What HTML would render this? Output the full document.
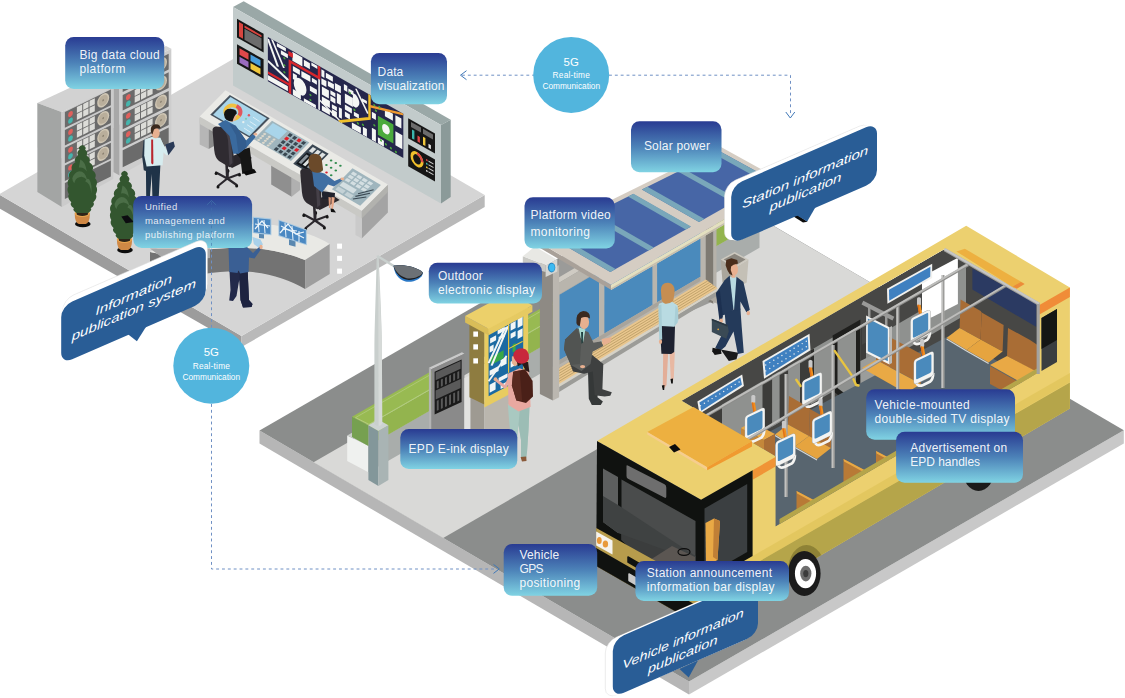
<!DOCTYPE html>
<html><head><meta charset="utf-8"><title>Smart bus information publication</title>
<style>
html,body{margin:0;padding:0;background:#fff;}
svg{display:block}
text{font-family:"Liberation Sans",sans-serif;fill:#fff}
</style></head><body>
<svg width="1125" height="698" viewBox="0 0 1125 698">
<defs>
<linearGradient id="lg" x1="0" y1="0" x2="0" y2="1"><stop offset="0" stop-color="#293b92"/><stop offset="0.5" stop-color="#4c82b8"/><stop offset="1" stop-color="#80d3e3"/></linearGradient>
</defs>
<polygon points="-1.0,194.4 241.5,336.0 241.5,347.0 -1.0,208.3" fill="#9c9c9c" />
<polygon points="241.5,336.0 484.7,195.0 484.7,207.0 241.5,347.0" fill="#b9b9b9" />
<polygon points="-1.0,194.4 241.8,54.1 484.7,195.0 241.5,336.0" fill="#d5d5d5" />
<polygon points="119.6,74.1 171.3,48.8 166.0,46.0 114.0,71.0" fill="#d4d4d4" />
<polygon points="113.3,88.0 119.6,74.1 119.6,175.5 113.3,172.0" fill="#a8a8a8" />
<polygon points="119.6,74.1 171.3,48.8 171.3,147.0 119.6,175.5" fill="#cdcdcd" />
<g transform="matrix(1,-0.493,0,1,122.7,76.5)">
<rect x="0.0" y="0.0" width="46.0" height="15.6" fill="#6b6b6b" />
<ellipse cx="5.6" cy="4.7" rx="2.4" ry="2.7" fill="#e0605c" />
<ellipse cx="5.6" cy="11.3" rx="2.4" ry="2.7" fill="#45b5ad" />
<rect x="12.0" y="0.8" width="5.3" height="6.0" fill="#dcdcd8" />
<rect x="12.0" y="7.7" width="5.3" height="6.0" fill="#dcdcd8" />
<rect x="18.3" y="0.8" width="5.3" height="6.0" fill="#dcdcd8" />
<rect x="18.3" y="7.7" width="5.3" height="6.0" fill="#dcdcd8" />
<rect x="24.6" y="0.8" width="5.3" height="6.0" fill="#dcdcd8" />
<rect x="24.6" y="7.7" width="5.3" height="6.0" fill="#dcdcd8" />
<ellipse cx="38.3" cy="7.0" rx="6.0" ry="6.6" fill="#cfc6b4" />
<ellipse cx="38.3" cy="7.0" rx="4.6" ry="5.2" fill="#b9ae9b" />
<ellipse cx="38.3" cy="7.0" rx="0.9" ry="1.0" fill="#8a8070" />
</g>
<g transform="matrix(1,-0.493,0,1,122.7,95.0)">
<rect x="0.0" y="0.0" width="46.0" height="15.6" fill="#6b6b6b" />
<ellipse cx="5.6" cy="4.7" rx="2.4" ry="2.7" fill="#e0605c" />
<ellipse cx="5.6" cy="11.3" rx="2.4" ry="2.7" fill="#45b5ad" />
<rect x="12.0" y="0.8" width="5.3" height="6.0" fill="#dcdcd8" />
<rect x="12.0" y="7.7" width="5.3" height="6.0" fill="#dcdcd8" />
<rect x="18.3" y="0.8" width="5.3" height="6.0" fill="#dcdcd8" />
<rect x="18.3" y="7.7" width="5.3" height="6.0" fill="#dcdcd8" />
<rect x="24.6" y="0.8" width="5.3" height="6.0" fill="#dcdcd8" />
<rect x="24.6" y="7.7" width="5.3" height="6.0" fill="#dcdcd8" />
<ellipse cx="38.3" cy="7.0" rx="6.0" ry="6.6" fill="#cfc6b4" />
<ellipse cx="38.3" cy="7.0" rx="4.6" ry="5.2" fill="#b9ae9b" />
<ellipse cx="38.3" cy="7.0" rx="0.9" ry="1.0" fill="#8a8070" />
</g>
<g transform="matrix(1,-0.493,0,1,122.7,113.7)">
<rect x="0.0" y="0.0" width="46.0" height="15.6" fill="#6b6b6b" />
<ellipse cx="5.6" cy="4.7" rx="2.4" ry="2.7" fill="#e0605c" />
<ellipse cx="5.6" cy="11.3" rx="2.4" ry="2.7" fill="#45b5ad" />
<rect x="12.0" y="0.8" width="5.3" height="6.0" fill="#dcdcd8" />
<rect x="12.0" y="7.7" width="5.3" height="6.0" fill="#dcdcd8" />
<rect x="18.3" y="0.8" width="5.3" height="6.0" fill="#dcdcd8" />
<rect x="18.3" y="7.7" width="5.3" height="6.0" fill="#dcdcd8" />
<rect x="24.6" y="0.8" width="5.3" height="6.0" fill="#dcdcd8" />
<rect x="24.6" y="7.7" width="5.3" height="6.0" fill="#dcdcd8" />
<ellipse cx="38.3" cy="7.0" rx="6.0" ry="6.6" fill="#cfc6b4" />
<ellipse cx="38.3" cy="7.0" rx="4.6" ry="5.2" fill="#b9ae9b" />
<ellipse cx="38.3" cy="7.0" rx="0.9" ry="1.0" fill="#8a8070" />
</g>
<g transform="matrix(1,-0.493,0,1,122.7,132.1)">
<rect x="0.0" y="0.0" width="46.0" height="15.6" fill="#6b6b6b" />
<ellipse cx="5.6" cy="4.7" rx="2.4" ry="2.7" fill="#e0605c" />
<ellipse cx="5.6" cy="11.3" rx="2.4" ry="2.7" fill="#45b5ad" />
<rect x="12.0" y="0.8" width="5.3" height="6.0" fill="#dcdcd8" />
<rect x="12.0" y="7.7" width="5.3" height="6.0" fill="#dcdcd8" />
<rect x="18.3" y="0.8" width="5.3" height="6.0" fill="#dcdcd8" />
<rect x="18.3" y="7.7" width="5.3" height="6.0" fill="#dcdcd8" />
<rect x="24.6" y="0.8" width="5.3" height="6.0" fill="#dcdcd8" />
<rect x="24.6" y="7.7" width="5.3" height="6.0" fill="#dcdcd8" />
<ellipse cx="38.3" cy="7.0" rx="6.0" ry="6.6" fill="#cfc6b4" />
<ellipse cx="38.3" cy="7.0" rx="4.6" ry="5.2" fill="#b9ae9b" />
<ellipse cx="38.3" cy="7.0" rx="0.9" ry="1.0" fill="#8a8070" />
</g>
<g transform="matrix(1,-0.493,0,1,122.7,150.3)">
<rect x="0.0" y="0.0" width="46.0" height="17.0" fill="#6b6b6b" />
</g>
<polygon points="37.3,103.0 61.6,112.1 113.3,87.9 88.8,79.0" fill="#d2d2d2" />
<polygon points="37.3,103.0 61.6,112.1 61.8,207.1 37.4,192.0" fill="#a3a5a4" />
<polygon points="61.6,112.1 113.3,87.2 113.3,179.0 61.8,207.1" fill="#cbcbcb" />
<g transform="matrix(1,-0.49,0,1,64.9,112.1)">
<rect x="0.0" y="0.0" width="46.0" height="15.6" fill="#6b6b6b" />
<ellipse cx="5.6" cy="4.7" rx="2.4" ry="2.7" fill="#e0605c" />
<ellipse cx="5.6" cy="11.3" rx="2.4" ry="2.7" fill="#45b5ad" />
<rect x="12.0" y="0.8" width="5.3" height="6.0" fill="#dcdcd8" />
<rect x="12.0" y="7.7" width="5.3" height="6.0" fill="#dcdcd8" />
<rect x="18.3" y="0.8" width="5.3" height="6.0" fill="#dcdcd8" />
<rect x="18.3" y="7.7" width="5.3" height="6.0" fill="#dcdcd8" />
<rect x="24.6" y="0.8" width="5.3" height="6.0" fill="#dcdcd8" />
<rect x="24.6" y="7.7" width="5.3" height="6.0" fill="#dcdcd8" />
<ellipse cx="38.3" cy="7.0" rx="6.0" ry="6.6" fill="#cfc6b4" />
<ellipse cx="38.3" cy="7.0" rx="4.6" ry="5.2" fill="#b9ae9b" />
<ellipse cx="38.3" cy="7.0" rx="0.9" ry="1.0" fill="#8a8070" />
</g>
<g transform="matrix(1,-0.49,0,1,64.9,129.9)">
<rect x="0.0" y="0.0" width="46.0" height="15.6" fill="#6b6b6b" />
<ellipse cx="5.6" cy="4.7" rx="2.4" ry="2.7" fill="#e0605c" />
<ellipse cx="5.6" cy="11.3" rx="2.4" ry="2.7" fill="#45b5ad" />
<rect x="12.0" y="0.8" width="5.3" height="6.0" fill="#dcdcd8" />
<rect x="12.0" y="7.7" width="5.3" height="6.0" fill="#dcdcd8" />
<rect x="18.3" y="0.8" width="5.3" height="6.0" fill="#dcdcd8" />
<rect x="18.3" y="7.7" width="5.3" height="6.0" fill="#dcdcd8" />
<rect x="24.6" y="0.8" width="5.3" height="6.0" fill="#dcdcd8" />
<rect x="24.6" y="7.7" width="5.3" height="6.0" fill="#dcdcd8" />
<ellipse cx="38.3" cy="7.0" rx="6.0" ry="6.6" fill="#cfc6b4" />
<ellipse cx="38.3" cy="7.0" rx="4.6" ry="5.2" fill="#b9ae9b" />
<ellipse cx="38.3" cy="7.0" rx="0.9" ry="1.0" fill="#8a8070" />
</g>
<g transform="matrix(1,-0.49,0,1,64.9,147.7)">
<rect x="0.0" y="0.0" width="46.0" height="15.6" fill="#6b6b6b" />
<ellipse cx="5.6" cy="4.7" rx="2.4" ry="2.7" fill="#e0605c" />
<ellipse cx="5.6" cy="11.3" rx="2.4" ry="2.7" fill="#45b5ad" />
<rect x="12.0" y="0.8" width="5.3" height="6.0" fill="#dcdcd8" />
<rect x="12.0" y="7.7" width="5.3" height="6.0" fill="#dcdcd8" />
<rect x="18.3" y="0.8" width="5.3" height="6.0" fill="#dcdcd8" />
<rect x="18.3" y="7.7" width="5.3" height="6.0" fill="#dcdcd8" />
<rect x="24.6" y="0.8" width="5.3" height="6.0" fill="#dcdcd8" />
<rect x="24.6" y="7.7" width="5.3" height="6.0" fill="#dcdcd8" />
<ellipse cx="38.3" cy="7.0" rx="6.0" ry="6.6" fill="#cfc6b4" />
<ellipse cx="38.3" cy="7.0" rx="4.6" ry="5.2" fill="#b9ae9b" />
<ellipse cx="38.3" cy="7.0" rx="0.9" ry="1.0" fill="#8a8070" />
</g>
<g transform="matrix(1,-0.49,0,1,64.9,165.4)">
<rect x="0.0" y="0.0" width="46.0" height="15.6" fill="#6b6b6b" />
<ellipse cx="5.6" cy="4.7" rx="2.4" ry="2.7" fill="#e0605c" />
<ellipse cx="5.6" cy="11.3" rx="2.4" ry="2.7" fill="#45b5ad" />
<rect x="12.0" y="0.8" width="5.3" height="6.0" fill="#dcdcd8" />
<rect x="12.0" y="7.7" width="5.3" height="6.0" fill="#dcdcd8" />
<rect x="18.3" y="0.8" width="5.3" height="6.0" fill="#dcdcd8" />
<rect x="18.3" y="7.7" width="5.3" height="6.0" fill="#dcdcd8" />
<rect x="24.6" y="0.8" width="5.3" height="6.0" fill="#dcdcd8" />
<rect x="24.6" y="7.7" width="5.3" height="6.0" fill="#dcdcd8" />
<ellipse cx="38.3" cy="7.0" rx="6.0" ry="6.6" fill="#cfc6b4" />
<ellipse cx="38.3" cy="7.0" rx="4.6" ry="5.2" fill="#b9ae9b" />
<ellipse cx="38.3" cy="7.0" rx="0.9" ry="1.0" fill="#8a8070" />
</g>
<g transform="matrix(1,-0.49,0,1,64.9,183.1)">
<rect x="0.0" y="0.0" width="46.0" height="16.0" fill="#6b6b6b" />
</g>
<polygon points="233.0,7.0 243.7,1.2 450.7,119.7 441.0,125.0" fill="#9aa8a7" />
<polygon points="441.0,125.0 450.7,119.7 450.7,197.0 441.0,203.5" fill="#8b9a99" />
<polygon points="233.0,7.0 441.0,125.0 441.0,203.5 233.0,85.5" fill="#c2cbcb" />
<g transform="matrix(1,0.567,0,1,233.0,7.0)">
<rect x="4.0" y="9.5" width="26.6" height="18.7" fill="#161616" />
<rect x="6.0" y="11.5" width="4.0" height="14.5" fill="#d8453f" />
<rect x="11.5" y="12.0" width="17.0" height="2.2" fill="#d8453f" />
<rect x="11.5" y="15.2" width="17.0" height="11.0" fill="#6c6c6c" />
<rect x="4.0" y="35.0" width="26.6" height="19.5" fill="#161616" />
<rect x="6.5" y="37.5" width="9.0" height="6.5" fill="#e0484a" />
<rect x="17.5" y="37.5" width="10.0" height="6.5" fill="#4a9edc" />
<rect x="6.5" y="46.0" width="9.0" height="6.0" fill="#9a6cc0" />
<rect x="17.5" y="46.0" width="10.0" height="6.0" fill="#f0c83c" />
<clipPath id="mapclip"><rect x="34.9" y="10.1" width="135.4" height="44.4"/></clipPath><rect x="34.9" y="10.1" width="135.4" height="44.4" fill="#25264b" />
<g clip-path="url(#mapclip)"><polyline points="34.9,12.1 44.9,34.1" fill="none" stroke="#f4f6f4" stroke-width="2.4" />
<polyline points="38.9,10.1 50.9,32.1" fill="none" stroke="#f4f6f4" stroke-width="2.0" />
<polyline points="34.9,34.1 55.9,42.1" fill="none" stroke="#f4f6f4" stroke-width="2.6" />
<rect x="43.9" y="11.1" width="9.0" height="3.5" fill="#f4f6f4" />
<rect x="47.9" y="16.1" width="7.0" height="4.0" fill="#f4f6f4" />
<rect x="34.9" y="48.1" width="20.0" height="5.0" fill="#f4f6f4" />
<rect x="59.4" y="11.1" width="10.0" height="9.0" fill="#f4f6f4" />
<rect x="70.9" y="12.6" width="6.0" height="6.0" fill="#f4f6f4" />
<rect x="78.4" y="11.1" width="6.0" height="3.0" fill="#f4f6f4" />
<rect x="59.9" y="25.1" width="7.0" height="5.0" fill="#f4f6f4" />
<rect x="68.4" y="25.1" width="9.0" height="6.0" fill="#f4f6f4" />
<rect x="78.9" y="26.1" width="5.0" height="4.0" fill="#f4f6f4" />
<rect x="59.9" y="32.1" width="4.0" height="6.0" fill="#f4f6f4" />
<rect x="76.9" y="35.1" width="7.0" height="5.0" fill="#f4f6f4" />
<rect x="59.9" y="48.1" width="8.0" height="6.0" fill="#f4f6f4" />
<rect x="70.9" y="51.1" width="12.0" height="3.4" fill="#f4f6f4" />
<rect x="88.4" y="12.1" width="3.0" height="7.0" fill="#f4f6f4" />
<rect x="92.9" y="13.1" width="7.0" height="5.0" fill="#f4f6f4" />
<rect x="88.4" y="21.1" width="5.0" height="6.0" fill="#f4f6f4" />
<rect x="94.9" y="20.1" width="6.0" height="5.0" fill="#f4f6f4" />
<rect x="101.9" y="18.1" width="6.0" height="7.0" fill="#f4f6f4" />
<rect x="88.9" y="29.1" width="7.0" height="8.0" fill="#f4f6f4" />
<rect x="97.4" y="28.1" width="5.0" height="4.0" fill="#f4f6f4" />
<rect x="97.4" y="33.6" width="5.0" height="5.0" fill="#f4f6f4" />
<rect x="103.9" y="27.1" width="4.0" height="10.0" fill="#f4f6f4" />
<rect x="88.9" y="39.1" width="8.0" height="7.0" fill="#f4f6f4" />
<rect x="98.9" y="41.1" width="5.0" height="4.0" fill="#f4f6f4" />
<rect x="98.9" y="46.1" width="5.0" height="6.0" fill="#f4f6f4" />
<rect x="105.9" y="40.1" width="3.0" height="10.0" fill="#f4f6f4" />
<rect x="88.9" y="48.1" width="8.0" height="5.0" fill="#f4f6f4" />
<rect x="110.9" y="14.1" width="3.4" height="6.0" fill="#f4f6f4" />
<rect x="115.4" y="16.1" width="5.0" height="4.0" fill="#f4f6f4" />
<rect x="111.9" y="23.1" width="8.0" height="9.0" fill="#f4f6f4" />
<rect x="111.9" y="34.1" width="7.0" height="5.0" fill="#f4f6f4" />
<rect x="120.9" y="36.1" width="5.0" height="4.0" fill="#f4f6f4" />
<rect x="111.9" y="41.1" width="5.0" height="5.0" fill="#f4f6f4" />
<rect x="128.9" y="18.1" width="5.0" height="3.0" fill="#f4f6f4" />
<rect x="118.9" y="48.1" width="9.0" height="6.0" fill="#f4f6f4" />
<rect x="129.9" y="46.1" width="4.0" height="8.0" fill="#f4f6f4" />
<rect x="138.9" y="42.1" width="4.0" height="12.0" fill="#f4f6f4" />
<rect x="138.9" y="26.1" width="4.0" height="6.0" fill="#f4f6f4" />
<rect x="162.4" y="32.1" width="7.0" height="14.0" fill="#f4f6f4" />
<rect x="162.4" y="16.1" width="6.0" height="10.0" fill="#f4f6f4" />
<rect x="151.9" y="16.1" width="8.0" height="7.0" fill="#f4f6f4" />
<rect x="144.9" y="48.1" width="6.0" height="6.0" fill="#f4f6f4" />
<ellipse cx="67.1" cy="41.6" rx="6.4" ry="8.2" fill="#f4f6f4" />
<path d="M119.9,18.1 L122.9,18.1 Q129.9,24.1 122.9,31.1 L119.9,31.1Z" fill="#f4f6f4" />
<polyline points="122.9,12.1 134.9,30.1" fill="none" stroke="#f4f6f4" stroke-width="2.0" />
<polyline points="86.1,22.1 86.1,54.1" fill="none" stroke="#f4f6f4" stroke-width="1.6" />
<polyline points="86.9,44.1 108.9,54.1" fill="none" stroke="#f4f6f4" stroke-width="1.6" />
<polyline points="34.9,45.7 56.9,45.7" fill="none" stroke="#d8262c" stroke-width="2.6" />
<polyline points="56.9,54.5 56.9,22.1 86.1,22.1 86.1,10.1" fill="none" stroke="#d8262c" stroke-width="2.6" />
<rect x="55.4" y="12.6" width="4.5" height="4.5" fill="#d8262c" />
<polyline points="105.9,54.7 136.5,34.1 136.5,10.1" fill="none" stroke="#f0c02c" stroke-width="2.4" />
<polyline points="136.8,21.5 170.3,10.7" fill="none" stroke="#f09a30" stroke-width="2.4" />
<rect x="144.9" y="26.6" width="15.5" height="19.0" fill="#4aaa3c" />
<ellipse cx="152.9" cy="35.5" rx="3.8" ry="4.8" fill="#f4f6f4" />
<circle cx="51.4" cy="22.1" r="1.1" fill="#4aaa3c" />
<circle cx="51.4" cy="29.1" r="1.1" fill="#4aaa3c" />
<circle cx="51.4" cy="36.1" r="1.1" fill="#4aaa3c" />
<circle cx="77.4" cy="44.1" r="1.1" fill="#4aaa3c" />
<circle cx="77.4" cy="49.1" r="1.1" fill="#4aaa3c" />
<circle cx="116.9" cy="19.6" r="1.1" fill="#4aaa3c" />
<circle cx="121.4" cy="34.1" r="1.1" fill="#4aaa3c" />
<circle cx="124.9" cy="45.6" r="1.1" fill="#4aaa3c" />
<circle cx="129.9" cy="44.1" r="1.1" fill="#4aaa3c" />
<circle cx="141.4" cy="18.1" r="1.1" fill="#4aaa3c" />
<circle cx="146.4" cy="17.1" r="1.1" fill="#4aaa3c" />
<circle cx="141.4" cy="38.1" r="1.1" fill="#4aaa3c" />
<circle cx="147.9" cy="49.6" r="1.1" fill="#4aaa3c" />
<circle cx="152.9" cy="50.6" r="1.1" fill="#4aaa3c" />
<circle cx="157.9" cy="51.6" r="1.1" fill="#4aaa3c" />
<circle cx="162.9" cy="52.6" r="1.1" fill="#4aaa3c" />
<circle cx="142.9" cy="22.6" r="1.1" fill="#4aaa3c" />
</g><rect x="175.2" y="12.0" width="26.8" height="20.0" fill="#161616" />
<rect x="178.0" y="14.0" width="10.0" height="5.0" fill="#6c6c6c" />
<rect x="190.0" y="14.0" width="10.0" height="5.0" fill="#6c6c6c" />
<rect x="179.0" y="21.0" width="2.4" height="9.0" fill="#3ab5ad" />
<rect x="184.5" y="24.0" width="2.4" height="6.0" fill="#e0484a" />
<rect x="190.0" y="22.0" width="2.4" height="8.0" fill="#f0c83c" />
<rect x="195.5" y="26.0" width="2.4" height="4.0" fill="#e8e8e8" />
<rect x="175.2" y="38.0" width="26.8" height="22.0" fill="#161616" />
<ellipse cx="184.0" cy="48.0" rx="5.2" ry="6.0" fill="none" stroke="#f0c02c" stroke-width="2.6"/>
<path d="M184,42 A5.2,6 0 0 1 189.2,48" fill="none" stroke="#e0484a" stroke-width="2.6"/>
<rect x="193.0" y="42.5" width="1.6" height="1.6" fill="#e0484a" />
<rect x="195.5" y="42.7" width="5.0" height="1.1" fill="#d0d0d0" />
<rect x="193.0" y="46.1" width="1.6" height="1.6" fill="#3ab5ad" />
<rect x="195.5" y="46.3" width="5.0" height="1.1" fill="#d0d0d0" />
<rect x="193.0" y="49.7" width="1.6" height="1.6" fill="#f0c83c" />
<rect x="195.5" y="49.9" width="5.0" height="1.1" fill="#d0d0d0" />
<rect x="193.0" y="53.3" width="1.6" height="1.6" fill="#e8e8e8" />
<rect x="195.5" y="53.5" width="5.0" height="1.1" fill="#d0d0d0" />
</g>
<polygon points="199.7,118.0 208.7,123.2 208.7,149.0 199.7,144.4" fill="#b6b6b6" />
<polygon points="208.7,123.2 214.0,126.0 214.0,146.0 208.7,149.0" fill="#8c8c8c" />
<polygon points="271.2,160.3 291.7,171.5 291.7,196.7 271.2,184.5" fill="#8f8f8f" />
<polygon points="291.7,171.5 300.1,167.0 300.1,190.0 291.7,196.7" fill="#b0b0b0" />
<polygon points="361.7,212.0 387.9,186.0 387.9,212.5 361.7,238.5" fill="#a4a4a4" />
<polygon points="355.5,208.0 361.7,211.6 361.7,238.5 355.5,235.0" fill="#cacaca" />
<polygon points="199.7,116.4 361.7,210.7 361.7,218.5 199.7,124.0" fill="#c9c9c5" />
<polygon points="361.7,210.7 387.9,184.5 387.9,192.0 361.7,218.5" fill="#b2b2ae" />
<polygon points="199.7,116.4 225.5,90.3 387.9,184.5 361.7,210.7" fill="#eaeae6" />
<polygon points="210.2,114.8 229.8,95.0 269.7,118.2 250.0,138.0" fill="#46525e" />
<polygon points="213.1,114.7 230.5,97.1 266.8,118.2 249.4,135.9" fill="#a9d5ea" />
<ellipse cx="232.7" cy="112.1" rx="7.6" ry="6.6" fill="none" stroke="#f0c040" stroke-width="3.8" transform="rotate(12 232.7 112.1)"/>
<path d="M236.6,105.9 A7.6,6.6 12 0 1 239.2,115.6" fill="none" stroke="#e05560" stroke-width="3.8"/>
<circle cx="248.9" cy="115.3" r="1.2" fill="#e05560" />
<circle cx="246.0" cy="118.8" r="1.1" fill="#7ed0b0" />
<circle cx="243.3" cy="122.1" r="1.2" fill="#e8f0f0" />
<line x1="253.0" y1="117.2" x2="259.6" y2="121.5" stroke="#dceef6" stroke-width="1.0" />
<line x1="249.8" y1="121.5" x2="256.4" y2="125.8" stroke="#dceef6" stroke-width="1.0" />
<line x1="247.1" y1="124.7" x2="253.7" y2="129.0" stroke="#dceef6" stroke-width="1.0" />
<line x1="243.9" y1="128.0" x2="250.5" y2="132.3" stroke="#dceef6" stroke-width="1.0" />
<polygon points="253.7,139.2 272.0,120.7 309.3,142.4 291.0,160.9" fill="#9fb5bd" />
<polygon points="264.7,131.2 272.9,122.9 287.2,131.2 278.9,139.5" fill="#a9d5ea" />
<ellipse cx="258.7" cy="140.1" rx="1.5" ry="1.1" fill="#dcd8cc" />
<ellipse cx="260.7" cy="138.1" rx="1.5" ry="1.1" fill="#dcd8cc" />
<ellipse cx="262.7" cy="136.1" rx="1.5" ry="1.1" fill="#dcd8cc" />
<ellipse cx="264.6" cy="134.1" rx="1.5" ry="1.1" fill="#dcd8cc" />
<ellipse cx="263.4" cy="142.8" rx="1.5" ry="1.1" fill="#dcd8cc" />
<ellipse cx="265.4" cy="140.8" rx="1.5" ry="1.1" fill="#dcd8cc" />
<ellipse cx="267.4" cy="138.8" rx="1.5" ry="1.1" fill="#dcd8cc" />
<ellipse cx="269.3" cy="136.9" rx="1.5" ry="1.1" fill="#dcd8cc" />
<ellipse cx="268.1" cy="145.5" rx="1.5" ry="1.1" fill="#dcd8cc" />
<ellipse cx="270.1" cy="143.6" rx="1.5" ry="1.1" fill="#dcd8cc" />
<ellipse cx="272.1" cy="141.6" rx="1.5" ry="1.1" fill="#dcd8cc" />
<ellipse cx="274.0" cy="139.6" rx="1.5" ry="1.1" fill="#dcd8cc" />
<polygon points="273.6,149.6 276.1,147.1 279.0,148.8 276.5,151.3" fill="#3a4852" />
<polygon points="277.1,146.1 279.5,143.6 282.4,145.3 280.0,147.8" fill="#3a4852" />
<polygon points="280.5,142.6 283.0,140.1 285.9,141.8 283.4,144.3" fill="#3a4852" />
<polygon points="284.0,139.1 286.4,136.6 289.3,138.3 286.9,140.8" fill="#e0202c" />
<polygon points="287.4,135.6 289.9,133.1 292.8,134.8 290.4,137.3" fill="#3a4852" />
<polygon points="278.1,152.1 280.5,149.7 283.4,151.4 281.0,153.8" fill="#3a4852" />
<polygon points="281.5,148.6 284.0,146.2 286.9,147.9 284.4,150.3" fill="#e0202c" />
<polygon points="285.0,145.2 287.4,142.7 290.3,144.4 287.9,146.8" fill="#3a4852" />
<polygon points="288.4,141.7 290.9,139.2 293.8,140.9 291.4,143.4" fill="#3a4852" />
<polygon points="291.9,138.2 294.3,135.7 297.3,137.4 294.8,139.9" fill="#3a4852" />
<polygon points="282.5,154.7 285.0,152.3 287.9,154.0 285.4,156.4" fill="#3a4852" />
<polygon points="286.0,151.2 288.4,148.8 291.3,150.5 288.9,152.9" fill="#3a4852" />
<polygon points="289.4,147.7 291.9,145.3 294.8,147.0 292.3,149.4" fill="#3a4852" />
<polygon points="292.9,144.2 295.3,141.8 298.3,143.5 295.8,145.9" fill="#3a4852" />
<polygon points="296.3,140.8 298.8,138.3 301.7,140.0 299.3,142.4" fill="#e0202c" />
<polygon points="287.0,157.3 289.4,154.9 292.3,156.6 289.9,159.0" fill="#3a4852" />
<polygon points="290.4,153.8 292.9,151.4 295.8,153.1 293.3,155.5" fill="#3a4852" />
<polygon points="293.9,150.3 296.3,147.9 299.3,149.6 296.8,152.0" fill="#e0202c" />
<polygon points="297.3,146.8 299.8,144.4 302.7,146.1 300.3,148.5" fill="#3a4852" />
<polygon points="300.8,143.3 303.3,140.9 306.2,142.6 303.7,145.0" fill="#3a4852" />
<polygon points="293.2,163.8 312.5,144.3 328.7,153.7 309.4,173.3" fill="#3a4652" />
<polygon points="308.8,151.1 312.9,147.0 316.3,148.9 312.2,153.1" fill="#dfe3e3" />
<polygon points="313.5,153.9 317.6,149.7 321.0,151.7 316.9,155.8" fill="#dfe3e3" />
<polygon points="318.2,156.6 322.3,152.4 325.7,154.4 321.6,158.6" fill="#dfe3e3" />
<polygon points="296.1,163.5 306.9,152.5 319.9,160.0 309.1,171.0" fill="#14181c" />
<polygon points="298.6,162.5 306.4,154.6 308.9,156.1 301.2,164.0" fill="#8a949c" />
<polygon points="302.7,164.8 310.4,157.0 313.0,158.5 305.3,166.3" fill="#dfe3e3" />
<polygon points="306.7,167.2 314.5,159.4 317.0,160.9 309.3,168.7" fill="#8a949c" />
<ellipse cx="317.1" cy="174.5" rx="1.3" ry="1.0" fill="#2e8a4c" />
<ellipse cx="321.8" cy="169.8" rx="1.3" ry="1.0" fill="#2e8a4c" />
<ellipse cx="326.4" cy="165.1" rx="1.3" ry="1.0" fill="#2e8a4c" />
<ellipse cx="331.1" cy="160.4" rx="1.3" ry="1.0" fill="#2e8a4c" />
<ellipse cx="321.8" cy="177.2" rx="1.3" ry="1.0" fill="#2e8a4c" />
<ellipse cx="326.5" cy="172.5" rx="1.3" ry="1.0" fill="#d82030" />
<ellipse cx="331.1" cy="167.8" rx="1.3" ry="1.0" fill="#2e8a4c" />
<ellipse cx="335.8" cy="163.1" rx="1.3" ry="1.0" fill="#2e8a4c" />
<ellipse cx="326.5" cy="179.9" rx="1.3" ry="1.0" fill="#2e8a4c" />
<ellipse cx="331.2" cy="175.2" rx="1.3" ry="1.0" fill="#2e8a4c" />
<ellipse cx="335.8" cy="170.5" rx="1.3" ry="1.0" fill="#2e8a4c" />
<ellipse cx="340.4" cy="165.8" rx="1.3" ry="1.0" fill="#2e8a4c" />
<polygon points="331.9,189.2 352.5,168.3 380.9,184.9 360.2,205.7" fill="#9fb5bd" />
<polygon points="344.6,180.2 347.0,177.9 351.0,180.2 348.7,182.6" fill="#d4dfe2" />
<polygon points="347.7,177.1 350.0,174.7 354.1,177.1 351.8,179.4" fill="#d4dfe2" />
<polygon points="350.8,173.9 353.1,171.6 357.2,173.9 354.9,176.3" fill="#d4dfe2" />
<polygon points="350.0,183.3 352.3,181.0 356.3,183.3 354.0,185.7" fill="#d4dfe2" />
<polygon points="353.1,180.2 355.4,177.8 359.4,180.2 357.1,182.5" fill="#d4dfe2" />
<polygon points="356.2,177.1 358.5,174.7 362.5,177.1 360.2,179.4" fill="#d4dfe2" />
<polygon points="355.3,186.4 357.6,184.1 361.7,186.4 359.4,188.8" fill="#d4dfe2" />
<polygon points="358.4,183.3 360.7,180.9 364.8,183.3 362.5,185.7" fill="#d4dfe2" />
<polygon points="361.5,180.2 363.8,177.8 367.9,180.2 365.6,182.5" fill="#d4dfe2" />
<polygon points="360.7,189.5 363.0,187.2 367.0,189.5 364.7,191.9" fill="#d4dfe2" />
<polygon points="363.8,186.4 366.1,184.1 370.1,186.4 367.8,188.8" fill="#d4dfe2" />
<polygon points="366.9,183.3 369.2,180.9 373.2,183.3 370.9,185.6" fill="#d4dfe2" />
<polygon points="339.5,185.4 343.1,181.8 356.9,189.8 353.2,193.4" fill="#d4dfe2" />
<polygon points="335.3,189.6 338.4,186.5 345.7,190.7 342.6,193.8" fill="#c4d2d6" />
<polygon points="344.3,194.8 347.3,191.7 353.8,195.4 350.7,198.6" fill="#c4d2d6" />
<line x1="352.9" y1="199.0" x2="366.3" y2="197.0" stroke="#3a4852" stroke-width="1.1" />
<line x1="355.4" y1="196.4" x2="370.0" y2="193.3" stroke="#3a4852" stroke-width="1.1" />
<line x1="358.0" y1="193.8" x2="373.6" y2="189.7" stroke="#3a4852" stroke-width="1.1" />
<line x1="227.3" y1="178.5" x2="216.1" y2="172.5" stroke="#2a272c" stroke-width="2.2" stroke-linecap="round"/>
<circle cx="216.1" cy="173.5" r="1.5" fill="#151515" />
<line x1="227.3" y1="178.5" x2="218.0" y2="186.0" stroke="#2a272c" stroke-width="2.2" stroke-linecap="round"/>
<circle cx="218.0" cy="187.0" r="1.5" fill="#151515" />
<line x1="227.3" y1="178.5" x2="236.7" y2="185.0" stroke="#2a272c" stroke-width="2.2" stroke-linecap="round"/>
<circle cx="236.7" cy="186.0" r="1.5" fill="#151515" />
<line x1="227.3" y1="178.5" x2="239.5" y2="174.0" stroke="#2a272c" stroke-width="2.2" stroke-linecap="round"/>
<circle cx="239.5" cy="175.0" r="1.5" fill="#151515" />
<line x1="227.3" y1="178.5" x2="228.0" y2="170.0" stroke="#2a272c" stroke-width="2.2" stroke-linecap="round"/>
<circle cx="228.0" cy="171.0" r="1.5" fill="#151515" />
<line x1="226.6" y1="164.0" x2="227.3" y2="179.0" stroke="#2a272c" stroke-width="2.6" />
<polygon points="222.0,160.0 243.0,152.0 252.0,158.0 232.0,168.0" fill="#2a262b" />
<path d="M212.6,131.0 Q212.0,127.0 216.0,126.5 L222.0,127.0 Q231.0,130.0 232.5,137.0 L234.0,162.0 Q233.5,168.0 229.0,167.0 L219.0,161.0 Q215.0,158.0 214.2,150.0 Z" fill="#2f2b31" />
<path d="M222.0,129.0 Q229.5,131.0 231.0,138.0 L232.5,163.0 L229.5,165.5 L228.0,140.0 Q227.0,132.0 222.0,129.0Z" fill="#454048" />
<polygon points="234.8,151.9 249.7,147.5 252.2,167.7 253.5,171.0 242.3,174.0 240.4,158.4" fill="#161616" />
<polygon points="243.0,172.0 254.0,169.0 256.5,172.5 246.0,175.5" fill="#0c0c0c" />
<polygon points="218.0,123.9 225.5,120.1 235.7,125.7 246.0,140.6 253.4,133.6 255.8,136.9 246.5,147.6 238.5,153.8 233.2,153.8 229.5,136.0" fill="#3a6a9e" />
<polygon points="229.5,124.0 235.7,125.7 246.0,140.6 246.5,147.6 238.5,153.8 236.0,135.0" fill="#335d8e" />
<ellipse cx="255.3" cy="134.2" rx="1.8" ry="1.4" fill="#e8b090" />
<ellipse cx="231.6" cy="116.4" rx="4.4" ry="5.4" fill="#e8b090" />
<path d="M224,114.5 Q224.2,108.6 230.6,108.8 Q237,109 236.8,113.6 Q234,115.6 232.6,121.6 Q224.6,121.5 224,114.5Z" fill="#141414" />
<line x1="315.0" y1="220.5" x2="303.8" y2="214.5" stroke="#2a272c" stroke-width="2.2" stroke-linecap="round"/>
<circle cx="303.8" cy="215.5" r="1.5" fill="#151515" />
<line x1="315.0" y1="220.5" x2="305.7" y2="228.0" stroke="#2a272c" stroke-width="2.2" stroke-linecap="round"/>
<circle cx="305.7" cy="229.0" r="1.5" fill="#151515" />
<line x1="315.0" y1="220.5" x2="324.4" y2="227.0" stroke="#2a272c" stroke-width="2.2" stroke-linecap="round"/>
<circle cx="324.4" cy="228.0" r="1.5" fill="#151515" />
<line x1="315.0" y1="220.5" x2="327.2" y2="216.0" stroke="#2a272c" stroke-width="2.2" stroke-linecap="round"/>
<circle cx="327.2" cy="217.0" r="1.5" fill="#151515" />
<line x1="315.0" y1="220.5" x2="315.7" y2="212.0" stroke="#2a272c" stroke-width="2.2" stroke-linecap="round"/>
<circle cx="315.7" cy="213.0" r="1.5" fill="#151515" />
<line x1="314.3" y1="206.0" x2="315.0" y2="221.0" stroke="#2a272c" stroke-width="2.6" />
<polygon points="309.7,202.0 330.7,194.0 339.7,200.0 319.7,210.0" fill="#2a262b" />
<path d="M300.3,173.0 Q299.7,169.0 303.7,168.5 L309.7,169.0 Q318.7,172.0 320.2,179.0 L321.7,204.0 Q321.2,210.0 316.7,209.0 L306.7,203.0 Q302.7,200.0 301.9,192.0 Z" fill="#2f2b31" />
<path d="M309.7,171.0 Q317.2,173.0 318.7,180.0 L320.2,205.0 L317.2,207.5 L315.7,182.0 Q314.7,174.0 309.7,171.0Z" fill="#454048" />
<polygon points="321.5,191.0 335.0,193.0 334.5,199.0 322.5,199.0" fill="#20222c" />
<polygon points="331.5,197.0 334.8,197.5 332.8,210.0 331.3,210.0" fill="#e8a888" />
<polygon points="328.5,197.0 331.0,197.5 330.3,208.0 329.0,208.0" fill="#d89878" />
<polygon points="330.5,208.5 333.5,209.0 336.0,212.5 331.0,212.0" fill="#111" />
<polygon points="312.0,170.0 324.5,173.5 334.5,181.0 341.0,178.2 342.3,180.6 334.0,186.5 328.0,184.5 322.0,192.5 314.0,186.0" fill="#3f6fa3" />
<ellipse cx="342.3" cy="178.9" rx="1.9" ry="1.3" fill="#e8b090" />
<ellipse cx="317.6" cy="160.5" rx="3.4" ry="4.2" fill="#e8b090" />
<path d="M308.5,160 Q309,153.5 315,153.8 Q321,154 321.8,160 L323,169 Q322,173 317,172.8 Q310,172.5 308.8,166Z" fill="#6b4a2a" />
<polygon points="145.9,165.3 160.4,164.4 158.7,198.0 152.4,198.0 151.8,174.0 149.8,198.0 146.2,198.0" fill="#1f3348" />
<polygon points="143.5,140.5 146.5,138.5 147.5,165.0 146.0,171.0 143.8,170.2 142.2,157.0" fill="#253748" />
<polygon points="144.6,139.6 151.6,136.9 160.4,137.8 164.0,146.7 162.6,165.2 146.6,166.4 144.2,155.6" fill="#d6ecef" />
<polygon points="160.0,138.0 164.5,146.5 169.0,153.5 166.6,155.5 161.0,150.0" fill="#d6ecef" />
<polygon points="165.3,144.4 173.6,141.6 174.9,146.5 168.4,155.2" fill="#2a3a57" />
<polygon points="151.2,139.5 153.1,139.5 153.4,163.5 152.2,164.5 151.2,163.0" fill="#b8272f" />
<ellipse cx="155.6" cy="133.0" rx="4.1" ry="5.3" fill="#e8b090" />
<path d="M150.8,131 Q150.2,124.2 156,124.2 Q160.8,124.4 160.3,128.6 Q156.5,127.6 154,129.5 Q153,132.5 152.4,134.5 Q151,133.5 150.8,131Z" fill="#3b2a1e" />
<ellipse cx="82.8" cy="224.0" rx="7.8" ry="3.2" fill="#0c0c0c" />
<path d="M74.7,213.5 Q74.8,222.5 78.8,224.1 L85.8,224.1 Q89.8,222.5 89.9,213.5Z" fill="#cf8845" />
<ellipse cx="82.3" cy="213.5" rx="7.6" ry="3.4" fill="#e9a650" />
<ellipse cx="82.3" cy="213.7" rx="5.8" ry="2.3" fill="#2e2418" />
<path d="M82.3,144.9 Q87.3,147.0 85.1,149.6 Q88.6,152.3 86.4,155.6 Q91.4,158.6 89.2,162.2 Q94.7,165.8 92.5,170.2 Q97.3,173.8 95.1,178.2 Q98.3,181.8 96.1,186.2 Q98.3,189.8 95.7,194.2 Q97.9,197.8 93.3,202.2 Q95.5,204.9 90.6,208.2 Q92.8,209.7 88.1,213.0 L76.5,213.0 Q71.8,209.7 74.0,208.2 Q69.1,204.9 71.3,202.2 Q66.7,197.8 68.9,194.2 Q66.3,189.8 68.5,186.2 Q66.3,181.8 69.5,178.2 Q67.3,173.8 72.1,170.2 Q69.9,165.8 75.4,162.2 Q73.2,158.6 78.2,155.6 Q76.0,152.3 79.5,149.6 Q77.3,147.0 82.3,144.9 Z" fill="#33562f" />
<path d="M80.3,159.6 q5,2 6.5,12 q-3,-5 -8,-4 q1,-5 1.5,-8Z" fill="#4b6e47" />
<path d="M72.3,178.2 q2,-6 7,-7 q6,0 8,9 q-4,-5 -8,-3 q-4,1 -5,6 q-2,-2 -2,-5Z" fill="#4b6e47" />
<path d="M85.3,181.5 q5,1 6,12 q1,-9 -2,-14 q-3,-2 -4,2Z" fill="#4b6e47" />
<ellipse cx="125.0" cy="250.0" rx="7.8" ry="3.2" fill="#0c0c0c" />
<path d="M116.9,239.5 Q117.0,248.5 121.0,250.1 L128.0,250.1 Q132.0,248.5 132.1,239.5Z" fill="#cf8845" />
<ellipse cx="124.5" cy="239.5" rx="7.6" ry="3.4" fill="#e9a650" />
<ellipse cx="124.5" cy="239.7" rx="5.8" ry="2.3" fill="#2e2418" />
<path d="M124.5,170.7 Q129.4,172.8 127.2,175.4 Q130.8,178.1 128.6,181.4 Q133.5,184.4 131.3,188.1 Q136.8,191.7 134.6,196.1 Q139.3,199.7 137.1,204.1 Q140.3,207.7 138.1,212.1 Q140.3,215.7 137.7,220.1 Q139.9,223.7 135.4,228.1 Q137.6,230.9 132.7,234.2 Q134.9,235.7 130.2,239.0 L118.8,239.0 Q114.1,235.7 116.3,234.2 Q111.4,230.9 113.6,228.1 Q109.1,223.7 111.3,220.1 Q108.7,215.7 110.9,212.1 Q108.7,207.7 111.9,204.1 Q109.7,199.7 114.4,196.1 Q112.2,191.7 117.7,188.1 Q115.5,184.4 120.4,181.4 Q118.2,178.1 121.8,175.4 Q119.6,172.8 124.5,170.7 Z" fill="#33562f" />
<path d="M122.5,185.4 q5,2 6.5,12 q-3,-5 -8,-4 q1,-5 1.5,-8Z" fill="#4b6e47" />
<path d="M114.5,204.1 q2,-6 7,-7 q6,0 8,9 q-4,-5 -8,-3 q-4,1 -5,6 q-2,-2 -2,-5Z" fill="#4b6e47" />
<path d="M127.5,207.4 q5,1 6,12 q1,-9 -2,-14 q-3,-2 -4,2Z" fill="#4b6e47" />
<polygon points="121.3,216.5 127.6,215.3 133.9,221.9 125.8,223.2" fill="#0c0c10" />
<path d="M305.1,260.1 C288,253 266,248.5 245.3,247.9 C225,247.5 200,249 170,256 L150,252 L150,262 L175,282 C200,272 225,270.5 249.6,271.8 C272,273.5 290,280.5 305.1,288.9Z" fill="#737373" />
<path d="M329.7,244.1 C318,236 300.8,230.8 279.5,225.9 C258,222.5 230,223.5 200,231 C180,237 165,245 150,252 L170,256 C200,249 225,247.5 245.3,247.9 C266,248.5 288,253 305.1,260.1Z" fill="#e9e9e5" />
<polygon points="305.1,260.1 329.7,244.1 329.7,274.0 305.1,288.9" fill="#9e9e9e" />
<polygon points="150.0,248.5 210.0,248.5 210.0,258.0 168.0,262.0" fill="#a8a8a8" />
<polygon points="259.0,233.0 264.0,233.6 264.0,238.5 259.0,238.0" fill="#5a88b0" />
<polygon points="252.8,216.7 271.4,218.6 271.4,235.3 252.8,233.0" fill="#a8c8e0" />
<polygon points="253.8,217.9 270.4,219.4 270.4,234.1 253.8,232.2" fill="#4a88c2" />
<polyline points="255.0,229.0 262.0,221.0 268.0,228.0" fill="none" stroke="#eef6fb" stroke-width="1.2" />
<line x1="258.0" y1="219.0" x2="259.0" y2="232.0" stroke="#eef6fb" stroke-width="1.0" />
<line x1="255.0" y1="224.0" x2="270.0" y2="226.0" stroke="#eef6fb" stroke-width="1.0" />
<line x1="264.0" y1="220.0" x2="265.0" y2="233.0" stroke="#eef6fb" stroke-width="1.0" />
<polygon points="289.0,238.5 295.5,240.5 295.5,246.8 289.0,245.0" fill="#5a88b0" />
<polygon points="278.4,219.5 306.8,229.5 306.8,245.3 278.4,236.0" fill="#a8c8e0" />
<polygon points="279.4,220.7 305.8,230.3 305.8,244.1 279.4,235.2" fill="#4a88c2" />
<polyline points="280.0,233.0 288.0,224.0 296.0,234.0 304.0,232.0" fill="none" stroke="#eef6fb" stroke-width="1.2" />
<line x1="281.0" y1="226.0" x2="304.0" y2="238.0" stroke="#eef6fb" stroke-width="1.1" />
<line x1="285.0" y1="223.0" x2="286.0" y2="237.0" stroke="#eef6fb" stroke-width="1.0" />
<line x1="292.0" y1="226.0" x2="293.0" y2="240.0" stroke="#eef6fb" stroke-width="1.0" />
<line x1="299.0" y1="231.0" x2="299.0" y2="242.0" stroke="#eef6fb" stroke-width="1.0" />
<line x1="282.0" y1="229.0" x2="297.0" y2="231.0" stroke="#eef6fb" stroke-width="1.0" />
<rect x="337.1" y="243.6" width="4.9" height="5.1" fill="#ffffff" />
<rect x="337.1" y="255.8" width="4.9" height="5.1" fill="#ffffff" />
<rect x="337.1" y="268.6" width="4.9" height="5.1" fill="#ffffff" />
<polygon points="229.5,271.0 247.6,270.0 249.0,300.0 252.5,304.0 251.5,307.0 243.0,307.5 240.5,300.0 239.2,280.0 236.5,296.0 233.0,301.0 229.2,300.5 230.5,290.0" fill="#232a4a" />
<polygon points="239.5,272.0 247.6,270.0 249.0,300.0 252.5,304.0 251.5,307.0 243.0,307.5 240.5,300.0" fill="#1d2340" />
<polygon points="228.5,247.0 247.0,247.0 253.0,253.0 259.5,246.5 261.5,248.5 254.5,258.5 249.0,257.5 248.6,272.0 240.0,273.5 238.5,270.0 237.5,273.0 229.3,272.0" fill="#3a5f94" />
<polygon points="252.5,237.0 260.5,239.5 263.0,244.5 258.5,247.5 253.8,244.0" fill="#a9d1ea" />
<ellipse cx="261.0" cy="247.0" rx="1.7" ry="2.2" fill="#e8b090" />
<polygon points="259.5,430.6 689.0,681.6 689.0,694.6 259.5,443.6" fill="#b6b6b6" />
<polygon points="689.0,681.6 1123.8,430.3 1123.8,443.5 689.0,694.6" fill="#c8c8c8" />
<polygon points="259.5,430.6 694.5,179.7 1123.8,430.3 689.0,681.6" fill="#8b8d8c" />
<polygon points="313.6,462.2 748.6,211.3 878.2,287.1 443.2,538.0" fill="#d9d9d7" />
<polygon points="347.2,435.4 368.4,445.8 368.4,472.3 347.2,461.0" fill="#eff1ef" />
<polygon points="347.2,435.4 440.8,381.7 462.0,392.1 368.4,445.8" fill="#c9cdc9" />
<polygon points="368.4,445.8 462.0,392.1 462.0,418.6 368.4,472.3" fill="#a9adab" />
<polygon points="352.0,416.8 368.4,425.3 368.4,446.0 352.0,437.0" fill="#76a050" />
<polygon points="368.4,425.3 462.0,371.6 462.0,392.3 368.4,446.0" fill="#93b44e" />
<polygon points="352.0,416.8 445.6,363.1 462.0,371.6 368.4,425.3" fill="#98ba52" />
<polyline points="369.0,424.4 462.0,371.0" fill="none" stroke="#b6cf84" stroke-width="0.9" />
<polyline points="355.5,417.6 449.1,363.9" fill="none" stroke="#b6cf84" stroke-width="0.7" />
<polyline points="355.5,417.6 369.0,424.4" fill="none" stroke="#b6cf84" stroke-width="0.9" />
<polygon points="478.8,359.9 738.3,210.9 759.5,221.3 500.0,370.3" fill="#c9cdc9" />
<polygon points="500.0,370.3 759.5,221.3 759.5,247.8 500.0,396.8" fill="#a9adab" />
<polygon points="500.0,349.8 738.0,213.1 738.0,233.8 500.0,370.5" fill="#93b44e" />
<polygon points="483.6,341.3 721.6,204.6 738.0,213.1 500.0,349.8" fill="#98ba52" />
<polyline points="500.6,348.9 738.0,212.6" fill="none" stroke="#b6cf84" stroke-width="0.9" />
<polyline points="487.1,342.1 725.1,205.4" fill="none" stroke="#b6cf84" stroke-width="0.7" />
<polygon points="368.4,425.3 378.4,431.0 378.4,486.0 368.4,480.0" fill="#83979a" />
<polygon points="378.4,431.0 388.4,425.3 388.4,480.0 378.4,486.0" fill="#a9b4b4" />
<polygon points="368.4,425.3 378.4,419.8 388.4,425.3 378.4,431.0" fill="#cdd3d2" />
<path d="M376.7,255.6 L378.6,255.6 C380,290 381.6,320 381.9,345 L382.2,424 Q378.4,428 374.4,424 L374.4,345 C374.8,320 376,290 376.7,255.6Z" fill="#c9cfcd" />
<path d="M378.2,256.5 C379.6,290 381.2,320 381.9,345 L382.2,424 Q380.5,426 378.6,426 Z" fill="#d6dad8" />
<polyline points="377.8,256.2 395.0,266.8" fill="none" stroke="#c9d0ce" stroke-width="2.4" />
<path d="M393.6,265.8 C401,264 417,266.5 422.8,272.5 C423,278.5 413,283 405.5,281.6 C398,279.5 394,272.5 393.6,265.8Z" fill="#2a78c6" />
<path d="M393.6,265.8 C401,264 417,266.5 422.8,272.5 C422.5,277 413,281 406,279.6 C399,277.8 394.5,271.5 393.6,265.8Z" fill="#1c1c1e" />
<path d="M393.6,265.8 C401,264 417,266.5 422.8,272.5 C421.5,276 413,279.6 406.5,278.2 C400,276.6 395,271 393.6,265.8Z" fill="#6c7176" />
<polygon points="428.9,367.7 431.3,369.2 431.3,440.0 428.9,440.0" fill="#b4b4b4" />
<polygon points="428.9,367.7 462.0,352.2 464.4,353.7 431.3,369.2" fill="#cacaca" />
<polygon points="431.3,369.2 464.4,353.7 464.4,440.0 431.3,440.0" fill="#8a8a8a" />
<g transform="matrix(1,-0.459,0,1,434.6,371.8)">
<rect x="0.0" y="0.0" width="27.0" height="42.7" fill="#1a1a1a" />
<rect x="1.0" y="1.2" width="25.0" height="7.6" fill="#5a5a5a" />
<rect x="1.0" y="19.2" width="25.0" height="9.0" fill="#5a5a5a" />
<rect x="2.2" y="10.6" width="1.9" height="7.2" fill="#5a5a5a" />
<rect x="2.2" y="30.0" width="1.9" height="10.0" fill="#5a5a5a" />
<rect x="6.3" y="10.6" width="1.9" height="7.2" fill="#5a5a5a" />
<rect x="6.3" y="30.0" width="1.9" height="10.0" fill="#5a5a5a" />
<rect x="10.4" y="10.6" width="1.9" height="7.2" fill="#5a5a5a" />
<rect x="10.4" y="30.0" width="1.9" height="10.0" fill="#5a5a5a" />
<rect x="14.5" y="10.6" width="1.9" height="7.2" fill="#5a5a5a" />
<rect x="14.5" y="30.0" width="1.9" height="10.0" fill="#5a5a5a" />
<rect x="18.6" y="10.6" width="1.9" height="7.2" fill="#5a5a5a" />
<rect x="18.6" y="30.0" width="1.9" height="10.0" fill="#5a5a5a" />
<rect x="22.7" y="10.6" width="1.9" height="7.2" fill="#5a5a5a" />
<rect x="22.7" y="30.0" width="1.9" height="10.0" fill="#5a5a5a" />
</g>
<polygon points="464.4,378.0 470.1,375.5 470.1,440.0 464.4,440.0" fill="#e2e2e0" />
<polygon points="720.7,259.5 734.6,268.0 734.2,289.4 722.5,282.5" fill="#aaa69c" />
<polygon points="734.6,268.0 748.5,259.5 746.7,282.5 734.2,289.4" fill="#c4c0b6" />
<polygon points="720.7,259.5 734.6,252.0 748.5,259.5 734.6,268.0" fill="#cdc9bf" />
<polygon points="723.7,259.6 734.6,253.8 745.5,259.6 734.6,266.0" fill="#8a867e" />
<polygon points="558.7,258.0 640.0,215.0 716.0,190.0 716.0,300.0 558.7,370.0" fill="#9b9b99" />
<polygon points="558.7,277.5 708.7,189.0 708.7,194.5 558.7,283.0" fill="#cfcbc3" />
<polygon points="558.7,283.0 708.7,194.5 708.7,206.3 558.7,294.8" fill="#b9b5ad" />
<polygon points="558.7,294.7 705.8,208.0 705.8,281.0 558.7,368.0" fill="#b9b5ad" />
<polygon points="559.5,294.7 599.0,271.4 599.0,336.6 559.5,359.9" fill="#4a8abc" />
<polygon points="604.4,268.2 652.4,239.9 652.4,305.1 604.4,333.4" fill="#4a8abc" />
<polygon points="657.1,237.1 700.4,211.6 700.4,276.8 657.1,302.3" fill="#4a8abc" />
<polygon points="559.5,359.9 700.4,276.8 700.4,281.0 559.5,364.5" fill="#a8a49c" />
<polygon points="705.8,205.0 713.3,209.0 713.3,303.7 705.8,300.0" fill="#7e7a72" />
<polygon points="713.3,209.0 716.5,207.0 716.5,301.5 713.3,303.7" fill="#b6b2aa" />
<polygon points="705.8,282.0 717.5,291.0 717.5,304.0 705.8,297.0" fill="#aeaaa2" />
<polygon points="559.1,384.0 717.5,288.3 717.5,291.0 559.1,387.0" fill="#d6d2c6" />
<polygon points="559.1,387.0 717.5,291.0 717.5,295.5 559.1,392.0" fill="#9c9c98" />
<polygon points="559.1,368.0 705.8,279.4 717.5,288.3 559.1,384.0" fill="#e9c68e" />
<line x1="559.1" y1="370.7" x2="707.8" y2="280.9" stroke="#b89a62" stroke-width="0.8" />
<line x1="559.1" y1="373.3" x2="709.7" y2="282.4" stroke="#b89a62" stroke-width="0.8" />
<line x1="559.1" y1="376.0" x2="711.6" y2="283.8" stroke="#b89a62" stroke-width="0.8" />
<line x1="559.1" y1="378.7" x2="713.6" y2="285.3" stroke="#b89a62" stroke-width="0.8" />
<line x1="559.1" y1="381.3" x2="715.5" y2="286.8" stroke="#b89a62" stroke-width="0.8" />
<polygon points="539.9,262.0 552.9,268.0 552.9,400.4 539.9,394.0" fill="#8e8a84" />
<polygon points="552.9,268.0 559.1,265.0 559.1,397.2 552.9,400.4" fill="#bbb7b0" />
<polygon points="532.8,238.7 611.0,284.8 611.0,289.8 532.8,243.7" fill="#a9a199" />
<polygon points="611.0,284.8 786.8,183.2 786.8,188.7 611.0,290.0" fill="#e4e0c0" />
<polygon points="611.0,288.2 786.8,186.8 786.8,188.7 611.0,290.0" fill="#c6beae" />
<polygon points="532.8,238.7 720.0,146.5 786.8,183.2 611.0,284.8" fill="#d5cdc3" />
<polygon points="548.7,235.9 633.2,193.9 690.7,226.7 610.3,272.1" fill="#4766a6" />
<polygon points="641.9,189.5 719.3,151.0 772.7,180.4 699.0,222.0" fill="#4766a6" />
<polygon points="548.7,235.9 554.3,233.1 615.6,269.1 610.3,272.1" fill="#79a7ba" />
<polygon points="588.8,216.0 594.4,213.2 653.8,247.5 648.5,250.6" fill="#79a7ba" />
<polygon points="628.0,196.5 633.5,193.7 691.0,226.5 685.7,229.5" fill="#79a7ba" />
<polygon points="641.9,189.5 647.5,186.7 704.4,219.0 699.0,222.0" fill="#79a7ba" />
<polygon points="677.9,171.6 683.5,168.8 738.6,199.6 733.3,202.6" fill="#79a7ba" />
<polygon points="713.7,153.8 719.3,151.0 772.7,180.4 767.4,183.4" fill="#79a7ba" />
<polygon points="522.8,256.3 545.6,264.9 545.6,272.0 539.9,270.5 522.8,262.5" fill="#c9c9c5" />
<polygon points="545.6,264.9 557.3,258.9 557.3,271.5 545.6,277.0" fill="#d6d6d2" />
<polygon points="522.8,256.3 534.9,246.4 556.3,259.2 545.6,264.9" fill="#e8e8e4" />
<ellipse cx="551.6" cy="267.6" rx="3.7" ry="4.9" fill="#2a86be" />
<ellipse cx="551.9" cy="267.6" rx="2.8" ry="3.9" fill="#3cbaf2" />
<polygon points="470.5,395.0 484.3,402.0 484.3,430.0 470.5,430.0" fill="#9e9a92" />
<polygon points="484.3,402.0 511.0,390.0 511.0,432.0 484.3,432.0" fill="#bab6ae" />
<polygon points="469.4,322.0 484.3,329.5 484.3,404.5 469.4,397.2" fill="#8e7c40" />
<rect x="473.3" y="331.5" width="4.7" height="5.2" fill="#ffffff" />
<rect x="473.3" y="344.3" width="4.7" height="5.2" fill="#ffffff" />
<rect x="473.3" y="358.3" width="4.7" height="5.2" fill="#ffffff" />
<polygon points="484.3,330.0 528.1,307.0 528.1,384.5 484.3,407.5" fill="#e8cc60" />
<g transform="matrix(1,-0.525,0,1,488.6,333.2)">
<rect x="0.0" y="0.0" width="34.6" height="63.0" fill="#1b6aa2" />
<rect x="1.5" y="6.0" width="6.0" height="5.0" fill="#f2f6f6" />
<rect x="1.0" y="14.0" width="4.0" height="6.0" fill="#f2f6f6" />
<rect x="9.0" y="2.0" width="7.0" height="4.0" fill="#f2f6f6" />
<rect x="10.0" y="9.0" width="6.0" height="3.0" fill="#f2f6f6" />
<rect x="22.0" y="2.0" width="5.0" height="7.0" fill="#f2f6f6" />
<rect x="29.0" y="1.0" width="5.0" height="9.0" fill="#f2f6f6" />
<rect x="22.0" y="12.0" width="5.0" height="5.0" fill="#f2f6f6" />
<rect x="29.0" y="13.0" width="5.0" height="8.0" fill="#f2f6f6" />
<rect x="1.0" y="38.0" width="9.0" height="5.0" fill="#f2f6f6" />
<rect x="12.0" y="33.0" width="6.0" height="7.0" fill="#f2f6f6" />
<rect x="1.0" y="52.0" width="6.0" height="8.0" fill="#f2f6f6" />
<rect x="10.0" y="50.0" width="9.0" height="4.0" fill="#f2f6f6" />
<rect x="22.0" y="40.0" width="6.0" height="6.0" fill="#f2f6f6" />
<rect x="12.0" y="58.0" width="8.0" height="4.0" fill="#f2f6f6" />
<rect x="2.0" y="25.0" width="13.0" height="8.0" fill="#39a845" />
<rect x="24.0" y="24.0" width="3.0" height="8.0" fill="#39a845" />
<polyline points="0.0,30.0 16.0,4.0 19.0,4.0 3.0,34.0" fill="none" stroke="#f2f6f6" stroke-width="2.4" />
<polyline points="0.0,48.0 18.0,32.0" fill="none" stroke="#f2f6f6" stroke-width="2.2" />
<polyline points="10.0,1.0 20.0,1.0 20.0,50.0" fill="none" stroke="#f0c838" stroke-width="1.1" />
<polyline points="20.0,26.0 34.0,26.0" fill="none" stroke="#f0c838" stroke-width="1.1" />
</g>
<polygon points="465.1,316.0 488.6,328.8 488.6,335.2 465.1,322.5" fill="#d9bd58" />
<polygon points="488.6,328.8 532.4,305.3 532.4,311.7 488.6,335.2" fill="#e6ca62" />
<polygon points="465.1,316.0 508.8,292.6 532.4,305.3 488.6,328.8" fill="#ecd06a" />
<clipPath id="busclip"><polygon points="681.6,400.8 944.2,249.2 1038.6,304.5 1038.6,372.5 775.5,526.5 775.5,456.3"/></clipPath>
<g clip-path="url(#busclip)">
<polygon points="681.6,400.8 944.2,249.2 1038.6,304.5 1038.6,372.5 775.5,526.5 775.5,456.3" fill="#474745" />
<polygon points="670.0,434.5 980.0,255.5 980.0,306.5 670.0,485.5" fill="#8f918f" />
<polygon points="681.0,428.1 722.0,404.5 722.0,455.5 681.0,479.1" fill="#3c3c3a" />
<polygon points="762.5,381.1 772.1,375.6 772.1,426.6 762.5,432.1" fill="#3c3c3a" />
<polygon points="779.6,371.2 788.1,366.3 788.1,417.3 779.6,422.2" fill="#3c3c3a" />
<polygon points="800.0,359.4 811.0,353.1 811.0,404.1 800.0,410.4" fill="#3c3c3a" />
<polygon points="860.4,324.6 866.0,321.3 866.0,372.3 860.4,375.6" fill="#3c3c3a" />
<polygon points="921.6,277.0 957.9,257.7 957.9,304.0 932.4,317.0 921.6,321.0" fill="#ffffff" />
<polygon points="832.6,335.6 860.4,319.6 860.4,413.9 832.6,390.4" fill="#1f1f1d" />
<polygon points="837.5,338.8 856.0,328.1 856.0,402.0 837.5,388.0" fill="#8f918f" />
<polygon points="811.0,350.1 832.6,337.6 832.6,390.4 811.0,396.0" fill="#8f918f" />
<polygon points="811.0,350.1 814.0,348.4 814.0,396.0 811.0,396.0" fill="#2c2c2a" />
<polygon points="862.0,310.7 922.0,276.0 922.0,310.0 862.0,344.7" fill="#474745" />
<polygon points="860.4,361.0 896.7,343.0 896.7,395.0 860.4,395.0" fill="#9b9d9b" />
<polygon points="681.6,478.8 966.0,326.8 1038.6,390.5 1038.6,560.0 681.6,560.0" fill="#58656f" />
<polygon points="966.0,262.0 1038.6,304.5 1038.6,385.0 966.0,343.0" fill="#474745" />
<polygon points="972.4,268.4 1036.5,303.7 1036.5,327.0 972.4,289.5" fill="#2b3a62" />
<polygon points="789.0,396.0 809.0,407.5 810.0,409.0 809.0,436.0 788.0,424.5" fill="#a96d35" />
<polygon points="810.0,409.0 832.0,421.5 831.0,448.0 809.0,436.0" fill="#a96d35" />
<polygon points="775.0,434.5 788.0,424.5 809.0,436.0 795.0,446.5" fill="#e9a945" />
<polygon points="795.0,446.5 809.0,436.0 831.0,448.0 817.0,459.0" fill="#e6a43f" />
<polyline points="775.0,435.5 795.0,447.5 817.0,460.0" fill="none" stroke="#d6d6d2" stroke-width="1.2" />
<polygon points="741.0,428.0 764.0,440.0 764.0,462.0 741.0,450.0" fill="#c4873a" />
<polygon points="741.0,428.0 752.0,422.0 775.0,434.0 764.0,440.0" fill="#e9a945" />
<polygon points="764.0,440.0 775.0,434.0 775.0,458.0 764.0,462.0" fill="#a96d35" />
<polygon points="876.0,330.0 899.0,342.0 899.0,372.0 876.0,360.0" fill="#a96d35" />
<polygon points="899.0,342.0 921.0,354.0 921.0,384.0 899.0,372.0" fill="#a96d35" />
<polygon points="862.0,368.0 876.0,360.0 921.0,384.0 906.0,393.0" fill="#e9a945" />
<polygon points="960.6,299.4 980.6,310.9 981.6,312.4 980.6,339.4 959.6,327.9" fill="#a96d35" />
<polygon points="981.6,312.4 1003.6,324.9 1002.6,351.4 980.6,339.4" fill="#a96d35" />
<polygon points="946.6,337.9 959.6,327.9 980.6,339.4 966.6,349.9" fill="#e9a945" />
<polygon points="966.6,349.9 980.6,339.4 1002.6,351.4 988.6,362.4" fill="#e6a43f" />
<polyline points="946.6,338.9 966.6,350.9 988.6,363.4" fill="none" stroke="#d6d6d2" stroke-width="1.2" />
<polygon points="1008.0,328.0 1030.0,340.0 1037.5,345.0 1037.5,372.0 1029.0,368.0 1007.0,356.0" fill="#a96d35" />
<polygon points="990.0,365.0 1007.0,356.0 1037.5,372.0 1037.5,385.0 1020.0,382.0" fill="#e9a945" />
<polygon points="990.0,366.0 1020.0,383.0 1020.0,400.0 990.0,384.0" fill="#a96d35" />
<polygon points="843.5,459.0 864.0,469.7 844.5,481.5 843.5,499.0" fill="#b87a36" />
<polygon points="843.5,459.0 864.0,469.7 862.5,471.5 844.1,461.6" fill="#e9a945" />
<polygon points="796.5,491.0 817.0,501.7 797.5,513.5 796.5,531.0" fill="#b87a36" />
<polygon points="796.5,491.0 817.0,501.7 815.5,503.5 797.1,493.6" fill="#e9a945" />
<polygon points="876.0,451.0 896.5,461.7 877.0,473.5 876.0,491.0" fill="#b87a36" />
<polygon points="876.0,451.0 896.5,461.7 895.0,463.5 876.6,453.6" fill="#e9a945" />
<polygon points="748.0,521.0 768.5,531.7 749.0,543.5 748.0,561.0" fill="#b87a36" />
<polygon points="748.0,521.0 768.5,531.7 767.0,533.5 748.6,523.6" fill="#e9a945" />
<rect x="941.3" y="275.0" width="3.0" height="113.0" fill="#c2c2c0" />
<rect x="943.3" y="275.0" width="1.0" height="113.0" fill="#8e8e8c" />
<rect x="896.2" y="306.0" width="3.0" height="94.0" fill="#c2c2c0" />
<rect x="898.2" y="306.0" width="1.0" height="94.0" fill="#8e8e8c" />
<rect x="831.5" y="345.0" width="3.0" height="123.0" fill="#c2c2c0" />
<rect x="833.5" y="345.0" width="1.0" height="123.0" fill="#8e8e8c" />
<polygon points="697.4,401.5 742.2,374.4 743.9,385.9 699.5,413.7" fill="#f1f1ef" />
<polygon points="699.4,402.5 740.4,377.4 741.9,384.7 701.3,410.7" fill="#3f80c0" />
<circle cx="700.5" cy="405.7" r="0.7" fill="#f1f1ef" />
<circle cx="704.4" cy="403.3" r="0.7" fill="#f1f1ef" />
<circle cx="708.2" cy="401.0" r="0.7" fill="#f1f1ef" />
<circle cx="712.1" cy="398.6" r="0.7" fill="#f1f1ef" />
<circle cx="715.9" cy="396.2" r="0.7" fill="#f1f1ef" />
<circle cx="719.8" cy="393.9" r="0.7" fill="#f1f1ef" />
<circle cx="723.7" cy="391.5" r="0.7" fill="#f1f1ef" />
<circle cx="727.5" cy="389.1" r="0.7" fill="#f1f1ef" />
<circle cx="731.4" cy="386.8" r="0.7" fill="#f1f1ef" />
<circle cx="735.2" cy="384.4" r="0.7" fill="#f1f1ef" />
<circle cx="739.1" cy="382.0" r="0.7" fill="#f1f1ef" />
<polygon points="762.5,361.0 809.5,333.8 810.5,350.3 764.0,378.7" fill="#f1f1ef" />
<polygon points="764.5,362.0 807.7,336.8 808.5,349.1 765.8,375.7" fill="#3f80c0" />
<circle cx="765.7" cy="365.0" r="0.7" fill="#f1f1ef" />
<circle cx="769.8" cy="362.6" r="0.7" fill="#f1f1ef" />
<circle cx="773.8" cy="360.2" r="0.7" fill="#f1f1ef" />
<circle cx="777.9" cy="357.9" r="0.7" fill="#f1f1ef" />
<circle cx="781.9" cy="355.5" r="0.7" fill="#f1f1ef" />
<circle cx="786.0" cy="353.1" r="0.7" fill="#f1f1ef" />
<circle cx="790.1" cy="350.7" r="0.7" fill="#f1f1ef" />
<circle cx="794.1" cy="348.3" r="0.7" fill="#f1f1ef" />
<circle cx="798.2" cy="346.0" r="0.7" fill="#f1f1ef" />
<circle cx="802.2" cy="343.6" r="0.7" fill="#f1f1ef" />
<circle cx="806.3" cy="341.2" r="0.7" fill="#f1f1ef" />
<circle cx="765.7" cy="370.9" r="0.7" fill="#f1f1ef" />
<circle cx="769.8" cy="368.5" r="0.7" fill="#f1f1ef" />
<circle cx="773.8" cy="366.0" r="0.7" fill="#f1f1ef" />
<circle cx="777.9" cy="363.6" r="0.7" fill="#f1f1ef" />
<circle cx="781.9" cy="361.2" r="0.7" fill="#f1f1ef" />
<circle cx="786.0" cy="358.8" r="0.7" fill="#f1f1ef" />
<circle cx="790.1" cy="356.4" r="0.7" fill="#f1f1ef" />
<circle cx="794.1" cy="354.0" r="0.7" fill="#f1f1ef" />
<circle cx="798.2" cy="351.6" r="0.7" fill="#f1f1ef" />
<circle cx="802.2" cy="349.1" r="0.7" fill="#f1f1ef" />
<circle cx="806.3" cy="346.7" r="0.7" fill="#f1f1ef" />
<polygon points="887.0,288.7 932.2,263.7 932.2,278.0 887.4,303.7" fill="#f1f1ef" />
<polygon points="889.0,289.7 930.4,266.7 930.2,276.8 889.2,300.7" fill="#3f80c0" />
<polyline points="862.4,302.6 893.4,318.6" fill="none" stroke="#9a9a98" stroke-width="4" />
<rect x="868.0" y="305.0" width="2.5" height="12.0" fill="#9a9a98" />
<rect x="885.0" y="314.0" width="2.5" height="14.0" fill="#9a9a98" />
<polygon points="866.1,315.4 889.5,327.2 889.5,364.5 866.1,352.8" fill="#f4f4f2" />
<polygon points="867.8,318.6 887.8,328.7 887.8,361.3 867.8,351.2" fill="#4a8abc" />
<polygon points="889.5,327.2 892.0,326.0 892.0,363.0 889.5,364.5" fill="#b9b9b7" />
<polyline points="834.7,350.9 851.8,375.4 856.1,385.0 858.5,385.5" fill="none" stroke="#e8c440" stroke-width="2.4" stroke-linecap="round" stroke-linejoin="round"/>
<polyline points="796.3,379.7 800.6,386.0" fill="none" stroke="#e8c440" stroke-width="2.4" stroke-linecap="round"/>
<line x1="705.9" y1="416.2" x2="968.1" y2="265.0" stroke="#8c8c8a" stroke-width="2.6" />
<line x1="705.9" y1="415.4" x2="968.1" y2="264.2" stroke="#bdbdbb" stroke-width="2.0" />
<rect x="784.5" y="374.0" width="3.0" height="123.0" fill="#c2c2c0" />
<rect x="786.5" y="374.0" width="1.0" height="123.0" fill="#8e8e8c" />
<rect x="808.5" y="359.9" width="4.0" height="8.5" fill="#c9c9c9" rx="1.5"/>
<polygon points="808.9,367.4 812.1,367.4 813.9,377.9 810.9,378.9" fill="#f0901e" />
<polygon points="808.9,367.4 810.3,367.4 812.1,378.3 810.9,378.9" fill="#e0701a" />
<path d="M804.3,397.9 L804.5,402.9 Q805.5,408.4 811.5,405.9 L818.5,402.5 Q821.5,399.9 821.5,393.9" fill="none" stroke="#f4f4f2" stroke-width="2.7"/>
<g transform="matrix(1,-0.485,0,1,802.3,381.3)">
<rect x="-0.4" y="-0.4" width="20.3" height="25.3" fill="#a9abab" rx="3.4"/>
<rect x="0.0" y="0.0" width="19.5" height="24.5" fill="#f4f4f2" rx="3"/>
<rect x="2.1" y="2.2" width="15.3" height="18.2" fill="#4a8abc" rx="1.4"/>
</g>
<rect x="751.3" y="395.1" width="4.0" height="8.5" fill="#c9c9c9" rx="1.5"/>
<polygon points="751.7,402.6 754.9,402.6 756.7,413.1 753.7,414.1" fill="#f0901e" />
<polygon points="751.7,402.6 753.1,402.6 754.9,413.5 753.7,414.1" fill="#e0701a" />
<path d="M747.1,433.1 L747.3,438.1 Q748.3,443.6 754.3,441.1 L761.3,437.7 Q764.3,435.1 764.3,429.1" fill="none" stroke="#f4f4f2" stroke-width="2.7"/>
<g transform="matrix(1,-0.485,0,1,745.1,416.5)">
<rect x="-0.4" y="-0.4" width="20.3" height="25.3" fill="#a9abab" rx="3.4"/>
<rect x="0.0" y="0.0" width="19.5" height="24.5" fill="#f4f4f2" rx="3"/>
<rect x="2.1" y="2.2" width="15.3" height="18.2" fill="#4a8abc" rx="1.4"/>
</g>
<rect x="917.0" y="297.3" width="4.0" height="8.5" fill="#c9c9c9" rx="1.5"/>
<polygon points="917.4,304.8 920.6,304.8 922.4,315.3 919.4,316.3" fill="#f0901e" />
<polygon points="917.4,304.8 918.8,304.8 920.6,315.7 919.4,316.3" fill="#e0701a" />
<path d="M912.8,335.3 L913.0,340.3 Q914.0,345.8 920.0,343.3 L927.0,339.9 Q930.0,337.3 930.0,331.3" fill="none" stroke="#f4f4f2" stroke-width="2.7"/>
<g transform="matrix(1,-0.485,0,1,910.8,318.7)">
<rect x="-0.4" y="-0.4" width="20.3" height="25.3" fill="#a9abab" rx="3.4"/>
<rect x="0.0" y="0.0" width="19.5" height="24.5" fill="#f4f4f2" rx="3"/>
<rect x="2.1" y="2.2" width="15.3" height="18.2" fill="#4a8abc" rx="1.4"/>
</g>
<line x1="747.5" y1="439.7" x2="1006.6" y2="285.3" stroke="#8c8c8a" stroke-width="2.6" />
<line x1="747.5" y1="438.9" x2="1006.6" y2="284.5" stroke="#bdbdbb" stroke-width="2.0" />
<rect x="818.6" y="398.3" width="4.0" height="8.5" fill="#c9c9c9" rx="1.5"/>
<polygon points="819.0,405.8 822.2,405.8 824.0,416.3 821.0,417.3" fill="#f0901e" />
<polygon points="819.0,405.8 820.4,405.8 822.2,416.7 821.0,417.3" fill="#e0701a" />
<path d="M814.4,436.3 L814.6,441.3 Q815.6,446.8 821.6,444.3 L828.6,440.9 Q831.6,438.3 831.6,432.3" fill="none" stroke="#f4f4f2" stroke-width="2.7"/>
<g transform="matrix(1,-0.485,0,1,812.4,419.7)">
<rect x="-0.4" y="-0.4" width="20.3" height="25.3" fill="#a9abab" rx="3.4"/>
<rect x="0.0" y="0.0" width="19.5" height="24.5" fill="#f4f4f2" rx="3"/>
<rect x="2.1" y="2.2" width="15.3" height="18.2" fill="#4a8abc" rx="1.4"/>
</g>
<rect x="781.9" y="420.8" width="4.0" height="8.5" fill="#c9c9c9" rx="1.5"/>
<polygon points="782.3,428.3 785.5,428.3 787.3,438.8 784.3,439.8" fill="#f0901e" />
<polygon points="782.3,428.3 783.7,428.3 785.5,439.2 784.3,439.8" fill="#e0701a" />
<path d="M777.7,458.8 L777.9,463.8 Q778.9,469.3 784.9,466.8 L791.9,463.4 Q794.9,460.8 794.9,454.8" fill="none" stroke="#f4f4f2" stroke-width="2.7"/>
<g transform="matrix(1,-0.485,0,1,775.7,442.2)">
<rect x="-0.4" y="-0.4" width="20.3" height="25.3" fill="#a9abab" rx="3.4"/>
<rect x="0.0" y="0.0" width="19.5" height="24.5" fill="#f4f4f2" rx="3"/>
<rect x="2.1" y="2.2" width="15.3" height="18.2" fill="#4a8abc" rx="1.4"/>
</g>
<rect x="920.2" y="338.9" width="4.0" height="8.5" fill="#c9c9c9" rx="1.5"/>
<polygon points="920.6,346.4 923.8,346.4 925.6,356.9 922.6,357.9" fill="#f0901e" />
<polygon points="920.6,346.4 922.0,346.4 923.8,357.3 922.6,357.9" fill="#e0701a" />
<path d="M916.0,376.9 L916.2,381.9 Q917.2,387.4 923.2,384.9 L930.2,381.5 Q933.2,378.9 933.2,372.9" fill="none" stroke="#f4f4f2" stroke-width="2.7"/>
<g transform="matrix(1,-0.485,0,1,914.0,360.3)">
<rect x="-0.4" y="-0.4" width="20.3" height="25.3" fill="#a9abab" rx="3.4"/>
<rect x="0.0" y="0.0" width="19.5" height="24.5" fill="#f4f4f2" rx="3"/>
<rect x="2.1" y="2.2" width="15.3" height="18.2" fill="#4a8abc" rx="1.4"/>
</g>
</g>
<path fill-rule="evenodd" fill="#ecd06f" d="M597,440.9 L966.2,225.8 L1069.9,287.4 L1069.9,408.6 L701,626 L701,499.8Z M681.6,400.8 L944.2,249.2 L1038.6,304.5 L1038.6,372.5 L775.5,526.5 L775.5,456.3Z"/>
<polygon points="775.5,526.5 1038.6,372.5 1038.6,367.5 779.5,519.0 779.5,524.2" fill="#b5a54a" />
<polygon points="701.0,586.0 1069.9,373.0 1069.9,382.0 701.0,595.0" fill="#e3c75f" />
<polygon points="701.0,595.0 1069.9,382.4 1069.9,408.6 701.0,626.0" fill="#b5a54a" />
<polygon points="752.6,470.2 775.5,457.0 775.5,466.5 752.6,479.8" fill="#f09436" />
<polygon points="1038.6,305.5 1069.9,287.4 1069.9,297.0 1038.6,315.0" fill="#f08c38" />
<polygon points="1041.5,318.0 1057.0,309.0 1057.0,362.0 1041.5,371.0" fill="#3a3e40" />
<polygon points="1041.5,318.0 1057.0,309.0 1057.0,340.0 1041.5,349.0" fill="#141614" />
<polygon points="701.0,499.8 752.6,470.2 752.6,556.0 701.0,586.0" fill="#101210" />
<polygon points="704.5,508.5 747.2,484.0 747.2,552.0 704.5,576.5" fill="#3b3f41" />
<polygon points="705.5,523.0 714.0,518.5 720.0,521.0 717.5,560.0 706.0,566.0" fill="#e9a945" />
<polygon points="714.0,518.5 720.0,521.0 717.5,560.0 713.0,557.0" fill="#c07f36" />
<clipPath id="sideclip"><polygon points="701.0,499.8 1069.9,287.4 1069.9,408.6 701.0,626.0"/></clipPath><ellipse cx="806.5" cy="570.5" rx="18.5" ry="25.5" fill="#8e8236" clip-path="url(#sideclip)"/>
<ellipse cx="804.3" cy="573.5" rx="16.3" ry="22.5" fill="#1b1b1b" />
<ellipse cx="805.5" cy="573.6" rx="10.6" ry="14.6" fill="#ffffff" />
<ellipse cx="805.8" cy="573.6" rx="5.6" ry="7.8" fill="#6e6e6e" />
<ellipse cx="805.8" cy="573.6" rx="2.6" ry="3.6" fill="#3c3c3c" />
<ellipse cx="980.7" cy="465.5" rx="18.5" ry="25.5" fill="#8e8236" clip-path="url(#sideclip)"/>
<ellipse cx="978.5" cy="468.5" rx="16.3" ry="22.5" fill="#1b1b1b" />
<line x1="944.4" y1="249.6" x2="1039.2" y2="304.4" stroke="#a0a09e" stroke-width="3.2" />
<line x1="944.4" y1="249.0" x2="1039.2" y2="303.8" stroke="#c6c6c4" stroke-width="2.2" />
<rect x="1036.6" y="304.0" width="3.2" height="70.0" fill="#a3a3a1" />
<polygon points="956.4,251.4 964.9,248.8 1024.0,283.4 1014.0,288.1" fill="#edb040" />
<polygon points="1012.9,286.5 1020.8,281.9 1024.7,284.0 1016.8,288.7" fill="#ec8c3a" />
<polygon points="647.3,431.9 693.5,407.0 752.0,441.1 707.2,467.3" fill="#edb040" />
<polygon points="647.3,431.9 707.2,467.3 707.2,470.3 647.3,434.6" fill="#f6cd8e" />
<polygon points="707.2,467.3 752.0,441.1 752.0,446.5 707.2,470.3" fill="#f09a30" />
<polygon points="669.0,447.0 675.0,444.0 680.5,449.5 674.0,452.5" fill="#0c0c0c" />
<polygon points="597.0,440.9 701.0,499.8 701.0,626.0 596.2,566.0" fill="#101210" />
<path d="M626.5,466.5 Q626.2,464.6 628.3,465.7 L664.5,484.3 Q666.3,485.3 666.3,487.5 L666.3,496.5 Q666.3,498.6 664.3,497.6 L628,478.8 Q626.5,478 626.5,476Z" fill="#6e6e6e" />
<polygon points="603.0,468.5 618.0,477.0 618.0,533.0 603.0,522.0" fill="#5d5f5f" />
<polygon points="621.5,479.5 695.5,521.0 695.5,585.0 690.0,602.0 621.5,540.0" fill="#4a4c4c" />
<polygon points="621.5,518.0 695.5,556.0 695.5,585.0 690.0,602.0 621.5,540.0" fill="#3b3d3d" />
<polygon points="603.0,496.0 618.0,505.0 695.5,556.0 695.5,561.0 618.0,533.0 603.0,522.0" fill="#3f4242" />
<polygon points="650.0,560.0 672.0,546.0 695.0,557.0 695.0,595.0 668.0,585.0" fill="#5b5652" />
<path d="M678,552 a6,3.4 0 1 0 12,0 a6,3.4 0 1 0 -12,0" fill="none" stroke="#0c0c0c" stroke-width="1.2"/>
<polygon points="690.0,565.0 695.5,562.0 695.5,592.0 690.0,594.0" fill="#e09a40" />
<polygon points="596.2,528.0 672.0,570.0 701.0,588.0 701.0,626.0 596.2,566.0" fill="#b79c4c" />
<polygon points="596.2,548.0 701.0,608.0 701.0,626.0 596.2,566.0" fill="#101210" />
<polygon points="596.2,531.5 612.5,540.5 612.5,554.5 596.2,545.5" fill="#f5f3ee" />
<ellipse cx="599.3" cy="540.5" rx="2.4" ry="3.6" fill="#e89a3c" />
<ellipse cx="605.4" cy="544.0" rx="2.7" ry="3.6" fill="#e89a3c" />
<polygon points="628.0,557.0 652.0,571.0 652.0,576.0 628.0,562.0" fill="#101210" stroke="#101210" stroke-width="1.5" stroke-linejoin="round"/>
<polygon points="629.0,574.0 640.0,580.5 640.0,587.0 629.0,580.5" fill="#c9c9c9" stroke="#c9c9c9" stroke-width="1.5" stroke-linejoin="round"/>
<polygon points="587.9,368.3 598.6,370.5 597.5,397.2 602.9,401.4 600.7,405.1 591.8,405.1 588.8,398.7" fill="#353838" />
<polygon points="569.8,363.0 592.2,355.1 603.3,364.1 602.4,389.3 611.8,392.2 610.3,395.7 604.6,396.5 594.7,395.2 592.8,371.5 584.1,373.7 573.0,371.5" fill="#3e4040" />
<polygon points="565.1,339.5 576.8,328.2 588.3,332.0 593.5,342.7 601.2,341.2 603.3,346.1 592.6,351.7 590.5,364.1 581.5,370.9 570.8,365.1 564.0,349.5" fill="#5c5e5c" />
<polygon points="576.8,328.2 581.5,339.5 579.8,364.1 570.8,365.1 564.0,349.5 565.1,339.5" fill="#515452" />
<polygon points="578.5,327.3 585.4,329.5 583.2,341.9 580.7,338.0" fill="#a9d9d0" />
<polygon points="581.1,332.0 583.0,332.0 582.8,342.7 581.5,343.8" fill="#1a3a3a" />
<polygon points="601.6,338.9 611.4,337.2 610.5,342.3 603.3,345.5" fill="#e8b090" />
<ellipse cx="582.6" cy="366.6" rx="2.6" ry="1.6" fill="#e8b090" />
<ellipse cx="584.1" cy="322.0" rx="5.0" ry="7.2" fill="#e8b090" />
<path d="M576.4,323.1 Q575.5,312.4 583.2,311.1 Q590.5,311.5 590.0,318.4 Q585.4,315.8 581.1,317.9 L579.8,326.1 Q577.2,326.1 576.4,323.1Z" fill="#3b2a20" />
<polygon points="663.2,352.0 668.2,352.0 666.5,385.0 664.0,388.5 662.8,386.0" fill="#e3ae98" />
<polygon points="669.5,352.0 674.8,352.0 673.8,378.0 672.5,382.5 670.8,380.0" fill="#e8b8a2" />
<polygon points="661.8,385.5 664.5,385.0 664.2,390.0 662.8,390.0" fill="#111" />
<polygon points="670.5,379.0 673.0,378.5 672.8,383.5 671.2,383.5" fill="#111" />
<polygon points="659.9,325.3 675.0,326.3 674.2,352.0 671.2,354.1 661.4,353.7" fill="#1e2230" />
<polygon points="658.8,303.7 669.5,300.1 677.6,305.4 678.4,320.4 674.2,326.8 660.9,326.1 658.8,316.5" fill="#b9dbe2" />
<polygon points="658.4,305.4 661.4,304.6 662.2,339.6 659.2,340.0" fill="#a9ced6" />
<polygon points="675.5,305.4 678.4,309.7 677.6,322.5 674.2,326.8" fill="#a9ced6" />
<ellipse cx="660.5" cy="341.7" rx="1.6" ry="2.2" fill="#e8b090" />
<path d="M660.9,290.5 Q660.9,282.4 668.2,282.8 Q675.0,283.6 674.6,291.7 L673.3,301.1 Q669.5,304.1 665.2,303.7 Q661.8,302.9 661.4,296.9Z" fill="#c68e52" />
<polygon points="720.7,349.4 738.2,352.8 736.5,359.2 728.8,360.9" fill="#1a1a1a" />
<polygon points="724.6,311.8 740.4,308.4 741.7,326.8 743.8,352.8 737.8,354.1 733.5,331.5 725.4,346.4 720.3,350.7 715.2,348.1 725.9,326.8" fill="#243a5a" />
<polygon points="712.6,347.7 720.7,349.4 721.6,353.7 714.7,355.0 712.2,351.3" fill="#141414" />
<polygon points="728.2,276.4 737.0,277.2 739.5,305.4 732.3,309.3" fill="#b9dbe2" />
<polygon points="716.0,293.0 724.6,280.2 729.7,275.5 733.5,310.1 725.0,314.4 719.9,316.5" fill="#243a5a" />
<polygon points="736.5,276.8 743.4,281.9 749.8,309.7 746.4,312.2 740.4,301.6 740.4,309.7 734.0,310.5" fill="#243a5a" />
<polygon points="716.0,293.0 719.9,290.5 722.9,316.5 721.6,320.4 719.4,319.9" fill="#1c3050" />
<ellipse cx="721.2" cy="320.8" rx="1.8" ry="2.2" fill="#e8b090" />
<ellipse cx="748.3" cy="313.1" rx="1.8" ry="2.2" fill="#e8b090" />
<polygon points="711.8,318.7 727.6,325.1 728.8,331.5 726.3,338.7 711.8,331.9" fill="#3a4a55" />
<polygon points="711.8,318.7 727.6,325.1 727.6,326.8 711.8,320.4" fill="#2a3842" />
<circle cx="718.2" cy="329.3" r="0.9" fill="#d8a040" />
<ellipse cx="734.3" cy="269.3" rx="3.7" ry="6.1" fill="#e8b090" />
<rect x="731.6" y="273.5" width="3.6" height="4.2" fill="#e8b090" />
<polygon points="725.6,265.2 726.3,260.0 731.4,258.3 737.2,259.9 738.0,263.4 733.6,264.8 731.1,266.4 730.7,270.0 732.6,275.6 729.6,274.0 727.4,270.2" fill="#4a2e1c" />
<polygon points="507.8,404.0 529.5,406.0 528.5,430.0 527.0,452.0 526.0,458.5 521.0,459.0 521.0,440.0 518.5,425.0 516.5,448.0 516.0,454.0 512.0,454.0 511.0,440.0 509.0,420.0" fill="#a9c9c1" />
<polygon points="518.5,425.0 521.0,440.0 521.0,459.0 526.0,458.5 527.0,452.0 528.5,430.0 529.5,406.0 520.0,406.0" fill="#9cbdb5" />
<polygon points="520.6,457.0 526.2,456.5 526.5,461.0 522.0,461.5" fill="#8a5a3a" />
<polygon points="512.0,452.5 516.2,452.5 516.2,456.0 512.5,456.0" fill="#8a5a3a" />
<polygon points="507.8,373.7 519.6,368.3 528.6,371.5 530.7,406.8 518.7,411.5 508.5,405.1" fill="#e8a8a0" />
<polyline points="510.0,376.9 505.1,387.1 496.5,380.3" fill="none" stroke="#e8a8a0" stroke-width="2.8" stroke-linejoin="round" stroke-linecap="round"/>
<ellipse cx="495.5" cy="379.2" rx="1.9" ry="1.9" fill="#e8b090" />
<polygon points="513.2,371.7 525.1,369.2 532.6,381.1 533.0,396.5 526.0,402.9 516.4,400.4 511.9,385.4" fill="#4a2018" />
<polygon points="513.2,371.7 519.6,370.5 522.1,400.4 516.4,400.4 511.9,385.4" fill="#5a2a20" />
<polygon points="511.9,356.6 517.0,355.1 518.7,364.1 514.9,366.6 511.9,363.2" fill="#e8b090" />
<polygon points="516.6,361.1 528.1,361.9 529.4,372.2 525.6,370.5 522.1,364.1 517.9,366.2" fill="#2a1a18" />
<path d="M513.2,355.9 Q514.0,348.3 522.1,348.3 Q529.8,349.5 529.0,358.5 Q527.3,364.1 520.4,363.6 Q515.3,362.8 513.2,355.9Z" fill="#c8283c" />
<line x1="462.0" y1="75.2" x2="534.0" y2="75.2" stroke="#6f90c4" stroke-width="1" stroke-dasharray="2.9,2.95"/>
<polyline points="466.5,70.7 460.5,75.2 466.5,79.7" fill="none" stroke="#3f78b8" stroke-width="1" />
<polyline points="609.0,75.2 790.5,75.2 790.5,116.0" fill="none" stroke="#6f90c4" stroke-width="1" stroke-dasharray="2.9,2.95"/>
<polyline points="785.8,112.0 790.3,118.0 794.8,112.0" fill="none" stroke="#3f78b8" stroke-width="1" />
<line x1="211.5" y1="202.0" x2="211.5" y2="328.0" stroke="#6f90c4" stroke-width="1" stroke-dasharray="2.9,2.95"/>
<polyline points="211.5,404.0 211.5,569.0 496.0,569.0" fill="none" stroke="#6f90c4" stroke-width="1" stroke-dasharray="2.9,2.95"/>
<polyline points="493.5,564.4 499.3,568.9 493.5,573.4" fill="none" stroke="#3f78b8" stroke-width="1" />
<circle cx="211.3" cy="365.7" r="38.0" fill="#52b5dd" />
<text x="211.3" y="356.4" font-size="11.4" text-anchor="middle">5G</text>
<text x="211.3" y="368.9" font-size="8.3" text-anchor="middle" textLength="37.2">Real-time</text>
<text x="211.3" y="379.9" font-size="8.3" text-anchor="middle" textLength="57.6">Communication</text>
<circle cx="571.2" cy="74.9" r="38.0" fill="#52b5dd" />
<text x="571.2" y="65.6" font-size="11.4" text-anchor="middle">5G</text>
<text x="571.2" y="78.1" font-size="8.3" text-anchor="middle" textLength="37.2">Real-time</text>
<text x="571.2" y="89.1" font-size="8.3" text-anchor="middle" textLength="57.6">Communication</text>
<g transform="matrix(1,-0.435,0,1,605.3,642.0)">
<rect x="0.0" y="0.0" width="145.2" height="57.5" fill="#ffffff" rx="11" ry="11" stroke="#dcdcdc" stroke-width="0.5"/>
</g>
<g transform="matrix(1,-0.435,0,1,606.5,641.7)">
<rect x="0.0" y="0.0" width="145.2" height="57.5" fill="#ffffff" rx="11" ry="11" />
</g>
<g transform="matrix(1,-0.435,0,1,607.8,641.3)">
<rect x="0.0" y="0.0" width="145.2" height="57.5" fill="#ffffff" rx="11" ry="11" />
</g>
<g transform="matrix(1,-0.435,0,1,609.0,641.0)">
<rect x="0.0" y="0.0" width="145.2" height="57.5" fill="#ffffff" rx="11" ry="11" />
</g>
<g transform="matrix(1,-0.435,0,1,610.3,640.7)">
<rect x="0.0" y="0.0" width="145.2" height="57.5" fill="#ffffff" rx="11" ry="11" />
</g>
<g transform="matrix(1,-0.435,0,1,611.5,640.3)">
<rect x="0.0" y="0.0" width="145.2" height="57.5" fill="#ffffff" rx="11" ry="11" />
</g>
<polygon points="679.5,669.0 698.0,660.5 688.7,677.5" fill="#295d96" />
<g transform="matrix(1,-0.435,0,1,612.8,640.0)">
<rect x="0.0" y="0.0" width="145.2" height="57.5" fill="#295d96" rx="11" ry="11" />
</g>
<text transform="matrix(1,-0.435,0,1,622.5,669.3)" x="0" y="0" font-size="12.3" font-style="italic" textLength="121.3" lengthAdjust="spacingAndGlyphs">Vehicle information</text>
<text transform="matrix(1,-0.435,0,1,648.0,673.8)" x="0" y="0" font-size="12.3" font-style="italic" textLength="69.5" lengthAdjust="spacingAndGlyphs">publication</text>
<rect x="65.2" y="36.9" width="99.0" height="52.1" fill="url(#lg)" rx="8.5" ry="8.5"/>
<text x="79.4" y="58.8" font-size="12" fill-opacity="0.93" textLength="80.4">Big data cloud</text>
<text x="79.4" y="73.0" font-size="12" fill-opacity="0.93" textLength="46.2">platform</text>
<rect x="370.9" y="52.9" width="76.1" height="51.3" fill="url(#lg)" rx="8.5" ry="8.5"/>
<text x="377.6" y="76.0" font-size="12" fill-opacity="0.93" textLength="25.7">Data</text>
<text x="377.6" y="89.8" font-size="12" fill-opacity="0.93" textLength="66.8">visualization</text>
<rect x="133.2" y="196.0" width="118.9" height="51.9" fill="url(#lg)" rx="8.5" ry="8.5"/>
<text x="144.9" y="209.5" font-size="9.5" fill-opacity="0.86" textLength="32.5">Unified</text>
<text x="144.9" y="224.2" font-size="9.5" fill-opacity="0.86" textLength="80">management and</text>
<text x="144.9" y="237.7" font-size="9.5" fill-opacity="0.86" textLength="89.3">publishing platform</text>
<polyline points="206.9,205.0 211.5,200.5 216.1,205.0" fill="none" stroke="#3f6ea8" stroke-width="0.9" />
<line x1="211.5" y1="202.0" x2="211.5" y2="247.9" stroke="#3f6ea8" stroke-width="0.8" stroke-dasharray="2.9,2.95" opacity="0.7"/>
<rect x="631.0" y="121.2" width="90.5" height="51.1" fill="url(#lg)" rx="8.5" ry="8.5"/>
<text x="643.9" y="149.9" font-size="12" fill-opacity="0.93" textLength="66.1">Solar power</text>
<rect x="524.5" y="197.3" width="90.3" height="51.1" fill="url(#lg)" rx="8.5" ry="8.5"/>
<text x="530.5" y="219.0" font-size="12" fill-opacity="0.93" textLength="80.3">Platform video</text>
<text x="530.5" y="235.5" font-size="12" fill-opacity="0.93" textLength="59.4">monitoring</text>
<rect x="428.8" y="262.8" width="113.2" height="40.8" fill="url(#lg)" rx="8.5" ry="8.5"/>
<text x="438.0" y="279.9" font-size="12" fill-opacity="0.93" textLength="44.8">Outdoor</text>
<text x="438.0" y="294.4" font-size="12" fill-opacity="0.93" textLength="96.9">electronic display</text>
<rect x="400.3" y="429.1" width="117.0" height="39.9" fill="url(#lg)" rx="8.5" ry="8.5"/>
<text x="408.6" y="452.8" font-size="12" fill-opacity="0.93" textLength="100.2">EPD E-ink display</text>
<rect x="503.7" y="544.0" width="93.5" height="51.8" fill="url(#lg)" rx="8.5" ry="8.5"/>
<text x="519.4" y="558.9" font-size="12" fill-opacity="0.93" textLength="39.9">Vehicle</text>
<text x="519.4" y="573.1" font-size="12" fill-opacity="0.93" textLength="24.2">GPS</text>
<text x="519.4" y="587.3" font-size="12" fill-opacity="0.93" textLength="60.8">positioning</text>
<rect x="635.4" y="561.0" width="153.6" height="40.0" fill="url(#lg)" rx="8.5" ry="8.5"/>
<text x="646.8" y="577.3" font-size="12" fill-opacity="0.93" textLength="125.2">Station announcement</text>
<text x="646.8" y="591.0" font-size="12" fill-opacity="0.93" textLength="127.7">information bar display</text>
<rect x="866.2" y="389.2" width="148.8" height="50.6" fill="url(#lg)" rx="8.5" ry="8.5"/>
<text x="874.4" y="408.9" font-size="12" fill-opacity="0.93" textLength="95.3">Vehicle-mounted</text>
<text x="874.4" y="422.8" font-size="12" fill-opacity="0.93" textLength="135.2">double-sided TV display</text>
<rect x="896.1" y="431.8" width="126.9" height="50.9" fill="url(#lg)" rx="8.5" ry="8.5"/>
<text x="910.3" y="451.7" font-size="12" fill-opacity="0.93" textLength="96.8">Advertisement on</text>
<text x="910.3" y="465.5" font-size="12" fill-opacity="0.93" textLength="69.8">EPD handles</text>
<g transform="matrix(1,-0.435,0,1,62.7,299.7)">
<rect x="0.0" y="0.0" width="144.6" height="57.8" fill="#ffffff" rx="11" ry="11" stroke="#dcdcdc" stroke-width="0.5"/>
</g>
<g transform="matrix(1,-0.435,0,1,62.5,300.8)">
<rect x="0.0" y="0.0" width="144.6" height="57.8" fill="#ffffff" rx="11" ry="11" />
</g>
<g transform="matrix(1,-0.435,0,1,62.2,301.9)">
<rect x="0.0" y="0.0" width="144.6" height="57.8" fill="#ffffff" rx="11" ry="11" />
</g>
<g transform="matrix(1,-0.435,0,1,62.0,302.9)">
<rect x="0.0" y="0.0" width="144.6" height="57.8" fill="#ffffff" rx="11" ry="11" />
</g>
<g transform="matrix(1,-0.435,0,1,61.7,304.0)">
<rect x="0.0" y="0.0" width="144.6" height="57.8" fill="#ffffff" rx="11" ry="11" />
</g>
<g transform="matrix(1,-0.435,0,1,61.5,305.1)">
<rect x="0.0" y="0.0" width="144.6" height="57.8" fill="#ffffff" rx="11" ry="11" />
</g>
<polygon points="127.0,333.5 147.5,324.5 136.9,341.2" fill="#295d96" />
<g transform="matrix(1,-0.435,0,1,61.2,306.2)">
<rect x="0.0" y="0.0" width="144.6" height="57.8" fill="#295d96" rx="11" ry="11" />
</g>
<text transform="matrix(1,-0.435,0,1,95.4,315.6)" x="0" y="0" font-size="12.3" font-style="italic" textLength="76.5" lengthAdjust="spacingAndGlyphs">Information</text>
<text transform="matrix(1,-0.435,0,1,71.7,341.0)" x="0" y="0" font-size="12.3" font-style="italic" textLength="124.3" lengthAdjust="spacingAndGlyphs">publication system</text>
<g transform="matrix(1,-0.435,0,1,724.5,184.9)">
<rect x="0.0" y="0.0" width="145.8" height="58.4" fill="#ffffff" rx="11" ry="11" stroke="#dcdcdc" stroke-width="0.5"/>
</g>
<g transform="matrix(1,-0.435,0,1,725.6,185.1)">
<rect x="0.0" y="0.0" width="145.8" height="58.4" fill="#ffffff" rx="11" ry="11" />
</g>
<g transform="matrix(1,-0.435,0,1,726.7,185.3)">
<rect x="0.0" y="0.0" width="145.8" height="58.4" fill="#ffffff" rx="11" ry="11" />
</g>
<g transform="matrix(1,-0.435,0,1,727.9,185.4)">
<rect x="0.0" y="0.0" width="145.8" height="58.4" fill="#ffffff" rx="11" ry="11" />
</g>
<g transform="matrix(1,-0.435,0,1,729.0,185.6)">
<rect x="0.0" y="0.0" width="145.8" height="58.4" fill="#ffffff" rx="11" ry="11" />
</g>
<g transform="matrix(1,-0.435,0,1,730.1,185.8)">
<rect x="0.0" y="0.0" width="145.8" height="58.4" fill="#ffffff" rx="11" ry="11" />
</g>
<polygon points="793.5,216.4 797.5,215.0 807.5,221.8 803.0,222.4" fill="#0c0c0c" />
<polygon points="795.0,214.2 817.0,204.6 807.2,221.6" fill="#295d96" />
<g transform="matrix(1,-0.435,0,1,731.2,186.0)">
<rect x="0.0" y="0.0" width="145.8" height="58.4" fill="#295d96" rx="11" ry="11" />
</g>
<text transform="matrix(1,-0.435,0,1,741.9,208.7)" x="0" y="0" font-size="12.3" font-style="italic" textLength="126.4" lengthAdjust="spacingAndGlyphs">Station information</text>
<text transform="matrix(1,-0.435,0,1,769.5,212.0)" x="0" y="0" font-size="12.3" font-style="italic" textLength="72" lengthAdjust="spacingAndGlyphs">publication</text>

</svg>
</body></html>
